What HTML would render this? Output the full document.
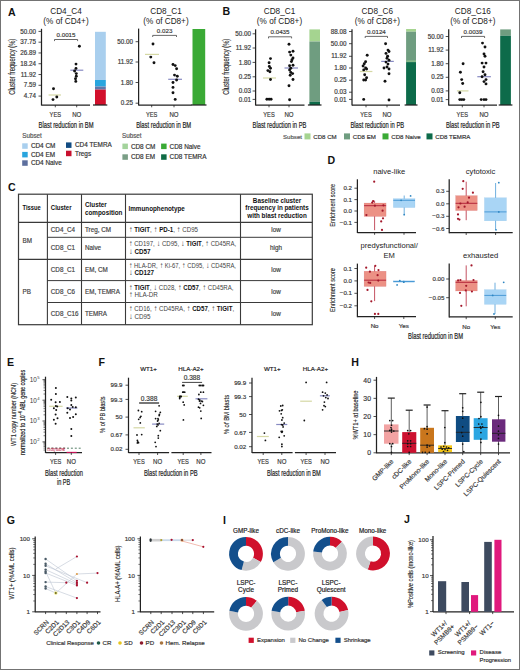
<!DOCTYPE html>
<html><head><meta charset="utf-8"><style>
html,body{margin:0;padding:0;background:#fff;}
#w{position:relative;width:520px;height:670px;overflow:hidden;background:#fff;}
svg{position:absolute;left:0;top:0;font-family:"Liberation Sans",sans-serif;}
#bd{position:absolute;left:0;top:0;width:518px;height:668px;border:1px solid #737373;}
</style></head><body><div id="w">
<svg width="520" height="670" viewBox="0 0 520 670">
<text x="7.9" y="15.6" font-size="10.6" fill="#111" font-weight="bold">A</text>
<text x="66" y="13.6" font-size="8.2" fill="#222" text-anchor="middle">CD4_C4</text>
<text x="66" y="23.6" font-size="8.2" fill="#222" text-anchor="middle">(% of CD4+)</text>
<line x1="41.5" y1="28.8" x2="41.5" y2="105.5" stroke="#222" stroke-width="1.25"/>
<line x1="38.5" y1="31.4" x2="41.5" y2="31.4" stroke="#222" stroke-width="0.8"/>
<text x="36" y="33.5672" font-size="6.3" fill="#3a3a3a" text-anchor="end" stroke="#3a3a3a" stroke-width="0.18">50.00</text>
<line x1="38.5" y1="42.18" x2="41.5" y2="42.18" stroke="#222" stroke-width="0.8"/>
<text x="36" y="44.3472" font-size="6.3" fill="#3a3a3a" text-anchor="end" stroke="#3a3a3a" stroke-width="0.18">37.75</text>
<line x1="38.5" y1="52.959999999999994" x2="41.5" y2="52.959999999999994" stroke="#222" stroke-width="0.8"/>
<text x="36" y="55.127199999999995" font-size="6.3" fill="#3a3a3a" text-anchor="end" stroke="#3a3a3a" stroke-width="0.18">26.89</text>
<line x1="38.5" y1="63.739999999999995" x2="41.5" y2="63.739999999999995" stroke="#222" stroke-width="0.8"/>
<text x="36" y="65.90719999999999" font-size="6.3" fill="#3a3a3a" text-anchor="end" stroke="#3a3a3a" stroke-width="0.18">18.24</text>
<line x1="38.5" y1="74.52" x2="41.5" y2="74.52" stroke="#222" stroke-width="0.8"/>
<text x="36" y="76.68719999999999" font-size="6.3" fill="#3a3a3a" text-anchor="end" stroke="#3a3a3a" stroke-width="0.18">11.92</text>
<line x1="38.5" y1="85.3" x2="41.5" y2="85.3" stroke="#222" stroke-width="0.8"/>
<text x="36" y="87.46719999999999" font-size="6.3" fill="#3a3a3a" text-anchor="end" stroke="#3a3a3a" stroke-width="0.18">7.59</text>
<line x1="38.5" y1="96.07999999999998" x2="41.5" y2="96.07999999999998" stroke="#222" stroke-width="0.8"/>
<text x="36" y="98.24719999999998" font-size="6.3" fill="#3a3a3a" text-anchor="end" stroke="#3a3a3a" stroke-width="0.18">4.74</text>
<line x1="41.5" y1="105" x2="90" y2="105" stroke="#222" stroke-width="1.25"/>
<line x1="55.3" y1="105" x2="55.3" y2="107.3" stroke="#222" stroke-width="0.8"/>
<line x1="76.7" y1="105" x2="76.7" y2="107.3" stroke="#222" stroke-width="0.8"/>
<text x="55.3" y="117.0" font-size="6.6" fill="#3a3a3a" textLength="11.4" lengthAdjust="spacingAndGlyphs" text-anchor="middle" stroke="#3a3a3a" stroke-width="0.18">YES</text>
<text x="76.7" y="117.0" font-size="6.6" fill="#3a3a3a" textLength="9.1" lengthAdjust="spacingAndGlyphs" text-anchor="middle" stroke="#3a3a3a" stroke-width="0.18">NO</text>
<text x="66.1" y="127.6" font-size="8.6" fill="#222" textLength="55" lengthAdjust="spacingAndGlyphs" text-anchor="middle" stroke="#222" stroke-width="0.2">Blast reduction in BM</text>
<text transform="translate(15.3,66.7) rotate(-90)" font-size="8.5" fill="#222" textLength="56" lengthAdjust="spacingAndGlyphs" text-anchor="middle" stroke="#222" stroke-width="0.12">Cluster frequency (%)</text>
<path d="M54.5,41.1 V39.5 H77.6 V41.1" fill="none" stroke="#444" stroke-width="0.8"/>
<text x="66.05" y="37.1328" font-size="6.2" fill="#3a3a3a" text-anchor="middle" stroke="#3a3a3a" stroke-width="0.18">0.0015</text>
<line x1="48.6" y1="95" x2="61" y2="95" stroke="#d5d8a4" stroke-width="1.2"/>
<line x1="70.3" y1="70.2" x2="83.3" y2="70.2" stroke="#878ac2" stroke-width="1.2"/>
<circle cx="53.5" cy="88.7" r="1.45" fill="#111"/>
<circle cx="53" cy="99.6" r="1.45" fill="#111"/>
<circle cx="56.8" cy="97" r="1.45" fill="#111"/>
<circle cx="79.4" cy="46.3" r="1.45" fill="#111"/>
<circle cx="76" cy="64.1" r="1.45" fill="#111"/>
<circle cx="76" cy="68.4" r="1.45" fill="#111"/>
<circle cx="74.6" cy="71" r="1.45" fill="#111"/>
<circle cx="76.3" cy="73.6" r="1.45" fill="#111"/>
<circle cx="76.3" cy="76.2" r="1.45" fill="#111"/>
<circle cx="75.5" cy="78.8" r="1.45" fill="#111"/>
<circle cx="75.8" cy="81.4" r="1.45" fill="#111"/>
<rect x="95" y="31.8" width="10.8" height="48.2" fill="#a9cfee"/>
<rect x="95" y="80" width="10.8" height="6.5" fill="#29a5de"/>
<rect x="95" y="86.5" width="10.8" height="3.1" fill="#5d78ab"/>
<rect x="95" y="89.6" width="10.8" height="15.400000000000006" fill="#d2102c"/>
<line x1="93" y1="105" x2="107.3" y2="105" stroke="#222" stroke-width="1.25"/>
<text x="166" y="13.6" font-size="8.2" fill="#222" text-anchor="middle">CD8_C1</text>
<text x="166" y="23.6" font-size="8.2" fill="#222" text-anchor="middle">(% of CD8+)</text>
<line x1="138.6" y1="28.6" x2="138.6" y2="105.5" stroke="#222" stroke-width="1.25"/>
<line x1="135.6" y1="41.7" x2="138.6" y2="41.7" stroke="#222" stroke-width="0.8"/>
<text x="133" y="43.867200000000004" font-size="6.3" fill="#3a3a3a" text-anchor="end" stroke="#3a3a3a" stroke-width="0.18">50.00</text>
<line x1="135.6" y1="62" x2="138.6" y2="62" stroke="#222" stroke-width="0.8"/>
<text x="133" y="64.1672" font-size="6.3" fill="#3a3a3a" text-anchor="end" stroke="#3a3a3a" stroke-width="0.18">11.92</text>
<line x1="135.6" y1="82.5" x2="138.6" y2="82.5" stroke="#222" stroke-width="0.8"/>
<text x="133" y="84.6672" font-size="6.3" fill="#3a3a3a" text-anchor="end" stroke="#3a3a3a" stroke-width="0.18">1.80</text>
<line x1="135.6" y1="103.2" x2="138.6" y2="103.2" stroke="#222" stroke-width="0.8"/>
<text x="133" y="105.3672" font-size="6.3" fill="#3a3a3a" text-anchor="end" stroke="#3a3a3a" stroke-width="0.18">0.25</text>
<line x1="138.6" y1="105" x2="191.4" y2="105" stroke="#222" stroke-width="1.25"/>
<line x1="151.7" y1="105" x2="151.7" y2="107.3" stroke="#222" stroke-width="0.8"/>
<line x1="174" y1="105" x2="174" y2="107.3" stroke="#222" stroke-width="0.8"/>
<text x="151.7" y="117.0" font-size="6.6" fill="#3a3a3a" textLength="11.4" lengthAdjust="spacingAndGlyphs" text-anchor="middle" stroke="#3a3a3a" stroke-width="0.18">YES</text>
<text x="174" y="117.0" font-size="6.6" fill="#3a3a3a" textLength="9.1" lengthAdjust="spacingAndGlyphs" text-anchor="middle" stroke="#3a3a3a" stroke-width="0.18">NO</text>
<text x="163.7" y="127.6" font-size="8.6" fill="#222" textLength="55" lengthAdjust="spacingAndGlyphs" text-anchor="middle" stroke="#222" stroke-width="0.2">Blast reduction in BM</text>
<path d="M152.7,37.0 V35.4 H176.5 V37.0" fill="none" stroke="#444" stroke-width="0.8"/>
<text x="164.6" y="33.1328" font-size="6.2" fill="#3a3a3a" text-anchor="middle" stroke="#3a3a3a" stroke-width="0.18">0.023</text>
<line x1="145" y1="54.4" x2="159" y2="54.4" stroke="#d5d8a4" stroke-width="1.2"/>
<line x1="168.2" y1="79.3" x2="182" y2="79.3" stroke="#878ac2" stroke-width="1.2"/>
<circle cx="153" cy="44" r="1.45" fill="#111"/>
<circle cx="150.8" cy="57.1" r="1.45" fill="#111"/>
<circle cx="154" cy="62.8" r="1.45" fill="#111"/>
<circle cx="173" cy="64.5" r="1.45" fill="#111"/>
<circle cx="175.2" cy="65.6" r="1.45" fill="#111"/>
<circle cx="176.6" cy="68.8" r="1.45" fill="#111"/>
<circle cx="174.5" cy="75.1" r="1.45" fill="#111"/>
<circle cx="177.3" cy="76.2" r="1.45" fill="#111"/>
<circle cx="176.6" cy="80" r="1.45" fill="#111"/>
<circle cx="173" cy="82.5" r="1.45" fill="#111"/>
<circle cx="173" cy="87.4" r="1.45" fill="#111"/>
<circle cx="173" cy="92.7" r="1.45" fill="#111"/>
<circle cx="175.2" cy="99.4" r="1.45" fill="#111"/>
<rect x="192.5" y="29" width="12.7" height="76" fill="#3aaa35"/>
<line x1="191" y1="105" x2="206.5" y2="105" stroke="#222" stroke-width="1.25"/>
<text x="22.2" y="138.2" font-size="6.3" fill="#555" stroke="#555" stroke-width="0.18">Subset</text>
<rect x="22.2" y="143.3" width="5.5" height="5.5" fill="#a9cfee"/>
<text x="30.9" y="148.25" font-size="6.4" fill="#333" stroke="#333" stroke-width="0.18">CD4 CM</text>
<rect x="22.2" y="151.9" width="5.5" height="5.5" fill="#29a5de"/>
<text x="30.9" y="156.85" font-size="6.4" fill="#333" stroke="#333" stroke-width="0.18">CD4 EM</text>
<rect x="22.2" y="160.3" width="5.5" height="5.5" fill="#5d6f9e"/>
<text x="30.9" y="165.25" font-size="6.4" fill="#333" stroke="#333" stroke-width="0.18">CD4 Naive</text>
<rect x="66" y="142.4" width="5.5" height="5.5" fill="#124c82"/>
<text x="75" y="147.35" font-size="6.4" fill="#333" stroke="#333" stroke-width="0.18">CD4 TEMRA</text>
<rect x="66" y="150.7" width="5.5" height="5.5" fill="#c8102e"/>
<text x="75" y="155.64999999999998" font-size="6.4" fill="#333" stroke="#333" stroke-width="0.18">Tregs</text>
<text x="122" y="138.2" font-size="6.3" fill="#555" stroke="#555" stroke-width="0.18">Subset</text>
<rect x="122.4" y="143.6" width="5.5" height="5.5" fill="#a3d39c"/>
<text x="130.9" y="148.54999999999998" font-size="6.4" fill="#333" stroke="#333" stroke-width="0.18">CD8 CM</text>
<rect x="122.4" y="154.3" width="5.5" height="5.5" fill="#7a9e86"/>
<text x="130.9" y="159.25" font-size="6.4" fill="#333" stroke="#333" stroke-width="0.18">CD8 EM</text>
<rect x="161.1" y="143.6" width="5.5" height="5.5" fill="#3aaa35"/>
<text x="169.6" y="148.54999999999998" font-size="6.4" fill="#333" stroke="#333" stroke-width="0.18">CD8 Naive</text>
<rect x="161.1" y="154.3" width="5.5" height="5.5" fill="#0f6b45"/>
<text x="169.6" y="159.25" font-size="6.4" fill="#333" stroke="#333" stroke-width="0.18">CD8 TEMRA</text>
<text x="222.4" y="15.4" font-size="10.6" fill="#111" font-weight="bold">B</text>
<text x="279.5" y="13.6" font-size="8.2" fill="#222" text-anchor="middle">CD8_C1</text>
<text x="279.5" y="23.6" font-size="8.2" fill="#222" text-anchor="middle">(% of CD8+)</text>
<line x1="255.6" y1="29.3" x2="255.6" y2="105.5" stroke="#222" stroke-width="1.25"/>
<line x1="252.6" y1="33.8" x2="255.6" y2="33.8" stroke="#222" stroke-width="0.8"/>
<text x="251" y="35.9672" font-size="6.3" fill="#3a3a3a" text-anchor="end" stroke="#3a3a3a" stroke-width="0.18">50.00</text>
<line x1="252.6" y1="48" x2="255.6" y2="48" stroke="#222" stroke-width="0.8"/>
<text x="251" y="50.1672" font-size="6.3" fill="#3a3a3a" text-anchor="end" stroke="#3a3a3a" stroke-width="0.18">11.92</text>
<line x1="252.6" y1="62.4" x2="255.6" y2="62.4" stroke="#222" stroke-width="0.8"/>
<text x="251" y="64.5672" font-size="6.3" fill="#3a3a3a" text-anchor="end" stroke="#3a3a3a" stroke-width="0.18">1.80</text>
<line x1="252.6" y1="76.8" x2="255.6" y2="76.8" stroke="#222" stroke-width="0.8"/>
<text x="251" y="78.96719999999999" font-size="6.3" fill="#3a3a3a" text-anchor="end" stroke="#3a3a3a" stroke-width="0.18">0.25</text>
<line x1="252.6" y1="91" x2="255.6" y2="91" stroke="#222" stroke-width="0.8"/>
<text x="251" y="93.1672" font-size="6.3" fill="#3a3a3a" text-anchor="end" stroke="#3a3a3a" stroke-width="0.18">0.03</text>
<line x1="252.6" y1="99.4" x2="255.6" y2="99.4" stroke="#222" stroke-width="0.8"/>
<text x="251" y="101.5672" font-size="6.3" fill="#3a3a3a" text-anchor="end" stroke="#3a3a3a" stroke-width="0.18">0.01</text>
<line x1="255.6" y1="105" x2="304.5" y2="105" stroke="#222" stroke-width="1.25"/>
<line x1="269" y1="105" x2="269" y2="107.3" stroke="#222" stroke-width="0.8"/>
<line x1="289" y1="105" x2="289" y2="107.3" stroke="#222" stroke-width="0.8"/>
<text x="269" y="117.0" font-size="6.6" fill="#3a3a3a" textLength="11.4" lengthAdjust="spacingAndGlyphs" text-anchor="middle" stroke="#3a3a3a" stroke-width="0.18">YES</text>
<text x="289" y="117.0" font-size="6.6" fill="#3a3a3a" textLength="9.1" lengthAdjust="spacingAndGlyphs" text-anchor="middle" stroke="#3a3a3a" stroke-width="0.18">NO</text>
<text x="279.5" y="127.6" font-size="8.6" fill="#222" textLength="53.8" lengthAdjust="spacingAndGlyphs" text-anchor="middle" stroke="#222" stroke-width="0.2">Blast reduction in PB</text>
<path d="M268.5,38.4 V36.8 H291.6 V38.4" fill="none" stroke="#444" stroke-width="0.8"/>
<text x="280.05" y="34.332800000000006" font-size="6.2" fill="#3a3a3a" text-anchor="middle" stroke="#3a3a3a" stroke-width="0.18">0.0435</text>
<line x1="263" y1="78" x2="276" y2="78" stroke="#d5d8a4" stroke-width="1.2"/>
<line x1="284.5" y1="68" x2="298" y2="68" stroke="#878ac2" stroke-width="1.2"/>
<circle cx="270.5" cy="58.6" r="1.45" fill="#111"/>
<circle cx="269.1" cy="62.8" r="1.45" fill="#111"/>
<circle cx="269.3" cy="66.4" r="1.45" fill="#111"/>
<circle cx="270.5" cy="68.2" r="1.45" fill="#111"/>
<circle cx="267.9" cy="70.6" r="1.45" fill="#111"/>
<circle cx="269.9" cy="71.8" r="1.45" fill="#111"/>
<circle cx="270.5" cy="79.5" r="1.45" fill="#111"/>
<circle cx="266.9" cy="99.2" r="1.45" fill="#111"/>
<circle cx="269.1" cy="99.2" r="1.45" fill="#111"/>
<circle cx="271.1" cy="99.2" r="1.45" fill="#111"/>
<circle cx="289" cy="44.3" r="1.45" fill="#111"/>
<circle cx="289.6" cy="52.1" r="1.45" fill="#111"/>
<circle cx="293" cy="51.2" r="1.45" fill="#111"/>
<circle cx="290.8" cy="55.1" r="1.45" fill="#111"/>
<circle cx="293" cy="58" r="1.45" fill="#111"/>
<circle cx="292" cy="59.8" r="1.45" fill="#111"/>
<circle cx="291.4" cy="61.6" r="1.45" fill="#111"/>
<circle cx="293" cy="65.2" r="1.45" fill="#111"/>
<circle cx="289.6" cy="65.8" r="1.45" fill="#111"/>
<circle cx="290.8" cy="68.2" r="1.45" fill="#111"/>
<circle cx="289.6" cy="70" r="1.45" fill="#111"/>
<circle cx="290.8" cy="72.4" r="1.45" fill="#111"/>
<circle cx="292.6" cy="73.6" r="1.45" fill="#111"/>
<circle cx="290.2" cy="75.3" r="1.45" fill="#111"/>
<circle cx="293" cy="79.5" r="1.45" fill="#111"/>
<circle cx="289" cy="85.8" r="1.45" fill="#111"/>
<circle cx="289.6" cy="99.8" r="1.45" fill="#111"/>
<rect x="309.4" y="29.4" width="10.600000000000023" height="12.100000000000001" fill="#a5d490"/>
<rect x="309.4" y="41.5" width="10.600000000000023" height="60.3" fill="#6f9d80"/>
<rect x="309.4" y="101.8" width="10.600000000000023" height="3.200000000000003" fill="#0d6b4a"/>
<line x1="307.9" y1="105" x2="321.5" y2="105" stroke="#222" stroke-width="1.25"/>
<text transform="translate(229.3,66.7) rotate(-90)" font-size="8.5" fill="#222" textLength="56" lengthAdjust="spacingAndGlyphs" text-anchor="middle" stroke="#222" stroke-width="0.12">Cluster frequency (%)</text>
<text x="377.3" y="13.6" font-size="8.2" fill="#222" text-anchor="middle">CD8_C6</text>
<text x="377.3" y="23.6" font-size="8.2" fill="#222" text-anchor="middle">(% of CD8+)</text>
<line x1="352" y1="29.3" x2="352" y2="105.5" stroke="#222" stroke-width="1.25"/>
<line x1="349" y1="31.5" x2="352" y2="31.5" stroke="#222" stroke-width="0.8"/>
<text x="346.5" y="33.6672" font-size="6.3" fill="#3a3a3a" text-anchor="end" stroke="#3a3a3a" stroke-width="0.18">88.08</text>
<line x1="349" y1="43.7" x2="352" y2="43.7" stroke="#222" stroke-width="0.8"/>
<text x="346.5" y="45.867200000000004" font-size="6.3" fill="#3a3a3a" text-anchor="end" stroke="#3a3a3a" stroke-width="0.18">50.00</text>
<line x1="349" y1="56.3" x2="352" y2="56.3" stroke="#222" stroke-width="0.8"/>
<text x="346.5" y="58.4672" font-size="6.3" fill="#3a3a3a" text-anchor="end" stroke="#3a3a3a" stroke-width="0.18">11.92</text>
<line x1="349" y1="68" x2="352" y2="68" stroke="#222" stroke-width="0.8"/>
<text x="346.5" y="70.1672" font-size="6.3" fill="#3a3a3a" text-anchor="end" stroke="#3a3a3a" stroke-width="0.18">1.80</text>
<line x1="349" y1="80.2" x2="352" y2="80.2" stroke="#222" stroke-width="0.8"/>
<text x="346.5" y="82.3672" font-size="6.3" fill="#3a3a3a" text-anchor="end" stroke="#3a3a3a" stroke-width="0.18">0.25</text>
<line x1="349" y1="92.2" x2="352" y2="92.2" stroke="#222" stroke-width="0.8"/>
<text x="346.5" y="94.3672" font-size="6.3" fill="#3a3a3a" text-anchor="end" stroke="#3a3a3a" stroke-width="0.18">0.03</text>
<line x1="349" y1="99.4" x2="352" y2="99.4" stroke="#222" stroke-width="0.8"/>
<text x="346.5" y="101.5672" font-size="6.3" fill="#3a3a3a" text-anchor="end" stroke="#3a3a3a" stroke-width="0.18">0.01</text>
<line x1="352" y1="105" x2="400" y2="105" stroke="#222" stroke-width="1.25"/>
<line x1="366" y1="105" x2="366" y2="107.3" stroke="#222" stroke-width="0.8"/>
<line x1="387" y1="105" x2="387" y2="107.3" stroke="#222" stroke-width="0.8"/>
<text x="366" y="117.0" font-size="6.6" fill="#3a3a3a" textLength="11.4" lengthAdjust="spacingAndGlyphs" text-anchor="middle" stroke="#3a3a3a" stroke-width="0.18">YES</text>
<text x="387" y="117.0" font-size="6.6" fill="#3a3a3a" textLength="9.1" lengthAdjust="spacingAndGlyphs" text-anchor="middle" stroke="#3a3a3a" stroke-width="0.18">NO</text>
<text x="377.3" y="127.6" font-size="8.6" fill="#222" textLength="53.8" lengthAdjust="spacingAndGlyphs" text-anchor="middle" stroke="#222" stroke-width="0.2">Blast reduction in PB</text>
<path d="M365.2,38.0 V36.4 H387.5 V38.0" fill="none" stroke="#444" stroke-width="0.8"/>
<text x="376.35" y="33.6328" font-size="6.2" fill="#3a3a3a" text-anchor="middle" stroke="#3a3a3a" stroke-width="0.18">0.0124</text>
<line x1="359.8" y1="71.5" x2="372.4" y2="71.5" stroke="#d5d8a4" stroke-width="1.2"/>
<line x1="381.2" y1="61.4" x2="393.8" y2="61.4" stroke="#878ac2" stroke-width="1.2"/>
<circle cx="367.2" cy="55.3" r="1.45" fill="#111"/>
<circle cx="365.6" cy="61.7" r="1.45" fill="#111"/>
<circle cx="364.3" cy="63.7" r="1.45" fill="#111"/>
<circle cx="363.1" cy="66" r="1.45" fill="#111"/>
<circle cx="365.6" cy="68" r="1.45" fill="#111"/>
<circle cx="366.6" cy="69" r="1.45" fill="#111"/>
<circle cx="363.7" cy="69.9" r="1.45" fill="#111"/>
<circle cx="364.7" cy="74.8" r="1.45" fill="#111"/>
<circle cx="366.6" cy="77.7" r="1.45" fill="#111"/>
<circle cx="363.7" cy="80" r="1.45" fill="#111"/>
<circle cx="365.6" cy="80" r="1.45" fill="#111"/>
<circle cx="363.7" cy="99.4" r="1.45" fill="#111"/>
<circle cx="385.6" cy="43.7" r="1.45" fill="#111"/>
<circle cx="388" cy="50.1" r="1.45" fill="#111"/>
<circle cx="389" cy="51.5" r="1.45" fill="#111"/>
<circle cx="386" cy="53.4" r="1.45" fill="#111"/>
<circle cx="387.6" cy="56.3" r="1.45" fill="#111"/>
<circle cx="387" cy="58.3" r="1.45" fill="#111"/>
<circle cx="389" cy="60.2" r="1.45" fill="#111"/>
<circle cx="386" cy="62.1" r="1.45" fill="#111"/>
<circle cx="388" cy="64.1" r="1.45" fill="#111"/>
<circle cx="387" cy="67" r="1.45" fill="#111"/>
<circle cx="384" cy="68" r="1.45" fill="#111"/>
<circle cx="389" cy="69" r="1.45" fill="#111"/>
<circle cx="389" cy="73.8" r="1.45" fill="#111"/>
<circle cx="385" cy="81.2" r="1.45" fill="#111"/>
<circle cx="389" cy="100" r="1.45" fill="#111"/>
<rect x="406.1" y="29.0" width="9.899999999999977" height="2.6999999999999993" fill="#a5d490"/>
<rect x="406.1" y="31.7" width="9.899999999999977" height="30.400000000000002" fill="#6f9d80"/>
<rect x="406.1" y="60.3" width="9.899999999999977" height="1.8000000000000043" fill="#86b98a"/>
<rect x="406.1" y="62.1" width="9.899999999999977" height="42.9" fill="#0d6b4a"/>
<line x1="404.6" y1="105" x2="417.5" y2="105" stroke="#222" stroke-width="1.25"/>
<text x="472.8" y="13.6" font-size="8.2" fill="#222" text-anchor="middle">CD8_C16</text>
<text x="472.8" y="23.6" font-size="8.2" fill="#222" text-anchor="middle">(% of CD8+)</text>
<line x1="448.7" y1="29.3" x2="448.7" y2="105.5" stroke="#222" stroke-width="1.25"/>
<line x1="445.7" y1="36.5" x2="448.7" y2="36.5" stroke="#222" stroke-width="0.8"/>
<text x="443.5" y="38.6672" font-size="6.3" fill="#3a3a3a" text-anchor="end" stroke="#3a3a3a" stroke-width="0.18">50.00</text>
<line x1="445.7" y1="50.1" x2="448.7" y2="50.1" stroke="#222" stroke-width="0.8"/>
<text x="443.5" y="52.2672" font-size="6.3" fill="#3a3a3a" text-anchor="end" stroke="#3a3a3a" stroke-width="0.18">11.92</text>
<line x1="445.7" y1="63.7" x2="448.7" y2="63.7" stroke="#222" stroke-width="0.8"/>
<text x="443.5" y="65.8672" font-size="6.3" fill="#3a3a3a" text-anchor="end" stroke="#3a3a3a" stroke-width="0.18">1.80</text>
<line x1="445.7" y1="77.3" x2="448.7" y2="77.3" stroke="#222" stroke-width="0.8"/>
<text x="443.5" y="79.46719999999999" font-size="6.3" fill="#3a3a3a" text-anchor="end" stroke="#3a3a3a" stroke-width="0.18">0.25</text>
<line x1="445.7" y1="90.9" x2="448.7" y2="90.9" stroke="#222" stroke-width="0.8"/>
<text x="443.5" y="93.0672" font-size="6.3" fill="#3a3a3a" text-anchor="end" stroke="#3a3a3a" stroke-width="0.18">0.03</text>
<line x1="445.7" y1="99.6" x2="448.7" y2="99.6" stroke="#222" stroke-width="0.8"/>
<text x="443.5" y="101.76719999999999" font-size="6.3" fill="#3a3a3a" text-anchor="end" stroke="#3a3a3a" stroke-width="0.18">0.01</text>
<line x1="448.7" y1="105" x2="497" y2="105" stroke="#222" stroke-width="1.25"/>
<line x1="462.3" y1="105" x2="462.3" y2="107.3" stroke="#222" stroke-width="0.8"/>
<line x1="484" y1="105" x2="484" y2="107.3" stroke="#222" stroke-width="0.8"/>
<text x="462.3" y="117.0" font-size="6.6" fill="#3a3a3a" textLength="11.4" lengthAdjust="spacingAndGlyphs" text-anchor="middle" stroke="#3a3a3a" stroke-width="0.18">YES</text>
<text x="484" y="117.0" font-size="6.6" fill="#3a3a3a" textLength="9.1" lengthAdjust="spacingAndGlyphs" text-anchor="middle" stroke="#3a3a3a" stroke-width="0.18">NO</text>
<text x="472.8" y="127.6" font-size="8.6" fill="#222" textLength="53.8" lengthAdjust="spacingAndGlyphs" text-anchor="middle" stroke="#222" stroke-width="0.2">Blast reduction in PB</text>
<path d="M461.5,38.0 V36.4 H484.6 V38.0" fill="none" stroke="#444" stroke-width="0.8"/>
<text x="473.05" y="33.5328" font-size="6.2" fill="#3a3a3a" text-anchor="middle" stroke="#3a3a3a" stroke-width="0.18">0.0039</text>
<line x1="456.9" y1="90.9" x2="468.5" y2="90.9" stroke="#d5d8a4" stroke-width="1.2"/>
<line x1="477.3" y1="76.7" x2="490.9" y2="76.7" stroke="#878ac2" stroke-width="1.2"/>
<circle cx="463.1" cy="63.7" r="1.45" fill="#111"/>
<circle cx="460.4" cy="72.2" r="1.45" fill="#111"/>
<circle cx="461.7" cy="79.6" r="1.45" fill="#111"/>
<circle cx="462.7" cy="83.5" r="1.45" fill="#111"/>
<circle cx="459.8" cy="92.8" r="1.45" fill="#111"/>
<circle cx="459.8" cy="99.6" r="1.45" fill="#111"/>
<circle cx="461.8" cy="99.6" r="1.45" fill="#111"/>
<circle cx="463.8" cy="99.6" r="1.45" fill="#111"/>
<circle cx="482.5" cy="43.1" r="1.45" fill="#111"/>
<circle cx="485" cy="47" r="1.45" fill="#111"/>
<circle cx="484" cy="54" r="1.45" fill="#111"/>
<circle cx="485" cy="56.3" r="1.45" fill="#111"/>
<circle cx="482.1" cy="63.1" r="1.45" fill="#111"/>
<circle cx="486" cy="63.1" r="1.45" fill="#111"/>
<circle cx="484" cy="67" r="1.45" fill="#111"/>
<circle cx="483.1" cy="71.8" r="1.45" fill="#111"/>
<circle cx="485" cy="74.8" r="1.45" fill="#111"/>
<circle cx="482.1" cy="76.7" r="1.45" fill="#111"/>
<circle cx="486" cy="79.6" r="1.45" fill="#111"/>
<circle cx="484" cy="81.6" r="1.45" fill="#111"/>
<circle cx="486" cy="83.9" r="1.45" fill="#111"/>
<circle cx="481.2" cy="99.6" r="1.45" fill="#111"/>
<circle cx="484" cy="99.6" r="1.45" fill="#111"/>
<circle cx="486" cy="99.6" r="1.45" fill="#111"/>
<rect x="500.2" y="29.4" width="10.699999999999989" height="6.399999999999999" fill="#6f9d80"/>
<rect x="500.2" y="35.8" width="10.699999999999989" height="69.2" fill="#0d6b4a"/>
<line x1="498.7" y1="105" x2="512.4" y2="105" stroke="#222" stroke-width="1.25"/>
<text x="283" y="138.5" font-size="6.1" fill="#555" stroke="#555" stroke-width="0.18">Subset</text>
<rect x="304.5" y="133.4" width="6" height="6" fill="#a5d490"/>
<text x="313.3" y="138.5" font-size="6.1" fill="#333" stroke="#333" stroke-width="0.18">CD8 CM</text>
<rect x="344.0" y="133.4" width="6" height="6" fill="#6f9d80"/>
<text x="352.8" y="138.5" font-size="6.1" fill="#333" stroke="#333" stroke-width="0.18">CD8 EM</text>
<rect x="382.5" y="133.4" width="6" height="6" fill="#3aaa35"/>
<text x="391.3" y="138.5" font-size="6.1" fill="#333" stroke="#333" stroke-width="0.18">CD8 Naive</text>
<rect x="426.5" y="133.4" width="6" height="6" fill="#0d6b4a"/>
<text x="435.3" y="138.5" font-size="6.1" fill="#333" stroke="#333" stroke-width="0.18">CD8 TEMRA</text>
<text x="8.1" y="190.9" font-size="10.6" fill="#111" font-weight="bold">C</text>
<rect x="18.5" y="194.2" width="293.8" height="130.5" fill="none" stroke="#3a3a3a" stroke-width="1.2"/>
<line x1="47.4" y1="194.2" x2="47.4" y2="324.7" stroke="#3a3a3a" stroke-width="1.1"/>
<line x1="81.5" y1="194.2" x2="81.5" y2="324.7" stroke="#3a3a3a" stroke-width="1.1"/>
<line x1="125.5" y1="194.2" x2="125.5" y2="324.7" stroke="#3a3a3a" stroke-width="1.1"/>
<line x1="240.5" y1="194.2" x2="240.5" y2="324.7" stroke="#3a3a3a" stroke-width="1.1"/>
<line x1="18.5" y1="222.4" x2="312.3" y2="222.4" stroke="#3a3a3a" stroke-width="1.2"/>
<line x1="18.5" y1="259.3" x2="312.3" y2="259.3" stroke="#3a3a3a" stroke-width="1.2"/>
<line x1="47.4" y1="237.3" x2="312.3" y2="237.3" stroke="#3a3a3a" stroke-width="1.0"/>
<line x1="47.4" y1="280.6" x2="312.3" y2="280.6" stroke="#3a3a3a" stroke-width="1.0"/>
<line x1="47.4" y1="302.5" x2="312.3" y2="302.5" stroke="#3a3a3a" stroke-width="1.0"/>
<text x="22.6" y="210.2" font-size="6.3" fill="#111" textLength="18.2" lengthAdjust="spacingAndGlyphs" font-weight="bold">Tissue</text>
<text x="50.8" y="210.2" font-size="6.3" fill="#111" textLength="20.7" lengthAdjust="spacingAndGlyphs" font-weight="bold">Cluster</text>
<text x="85" y="206.8" font-size="6.3" fill="#111" font-weight="bold">Cluster</text>
<text x="85" y="214.6" font-size="6.3" fill="#111" font-weight="bold">composition</text>
<text x="128.5" y="211" font-size="6.3" fill="#111" font-weight="bold">Immunophenotype</text>
<text x="277" y="202.6" font-size="6.3" fill="#111" font-weight="bold" text-anchor="middle">Baseline cluster</text>
<text x="277" y="210.2" font-size="6.3" fill="#111" font-weight="bold" text-anchor="middle">frequency in patients</text>
<text x="277" y="218" font-size="6.3" fill="#111" font-weight="bold" text-anchor="middle">with blast reduction</text>
<text x="22.6" y="243.4" font-size="6.3" fill="#444" stroke="#444" stroke-width="0.18">BM</text>
<text x="22.6" y="293.9" font-size="6.3" fill="#444" stroke="#444" stroke-width="0.18">PB</text>
<text x="50.8" y="232.2" font-size="6.3" fill="#444" stroke="#444" stroke-width="0.18">CD4_C4</text>
<text x="85" y="232.2" font-size="6.3" fill="#444" stroke="#444" stroke-width="0.18">Treg, CM</text>
<text x="276" y="232.2" font-size="6.3" fill="#444" text-anchor="middle" stroke="#444" stroke-width="0.18">low</text>
<text x="50.8" y="250.29999999999998" font-size="6.3" fill="#444" stroke="#444" stroke-width="0.18">CD8_C1</text>
<text x="85" y="250.29999999999998" font-size="6.3" fill="#444" stroke="#444" stroke-width="0.18">Naive</text>
<text x="276" y="250.29999999999998" font-size="6.3" fill="#444" text-anchor="middle" stroke="#444" stroke-width="0.18">high</text>
<text x="50.8" y="271.8" font-size="6.3" fill="#444" stroke="#444" stroke-width="0.18">CD8_C1</text>
<text x="85" y="271.8" font-size="6.3" fill="#444" stroke="#444" stroke-width="0.18">EM, CM</text>
<text x="276" y="271.8" font-size="6.3" fill="#444" text-anchor="middle" stroke="#444" stroke-width="0.18">low</text>
<text x="50.8" y="294.0" font-size="6.3" fill="#444" stroke="#444" stroke-width="0.18">CD8_C6</text>
<text x="85" y="294.0" font-size="6.3" fill="#444" stroke="#444" stroke-width="0.18">EM, TEMRA</text>
<text x="276" y="294.0" font-size="6.3" fill="#444" text-anchor="middle" stroke="#444" stroke-width="0.18">low</text>
<text x="50.8" y="315.8" font-size="6.3" fill="#444" stroke="#444" stroke-width="0.18">CD8_C16</text>
<text x="85" y="315.8" font-size="6.3" fill="#444" stroke="#444" stroke-width="0.18">TEMRA</text>
<text x="276" y="315.8" font-size="6.3" fill="#444" text-anchor="middle" stroke="#444" stroke-width="0.18">low</text>
<text x="128.7" y="231.7" font-size="6.3" fill="#444" textLength="69.3" lengthAdjust="spacingAndGlyphs"><tspan font-size="8" fill="#444">↑</tspan> <tspan font-weight="bold" fill="#111">TIGIT</tspan>, <tspan font-size="8" fill="#444">↑</tspan> <tspan font-weight="bold" fill="#111">PD-1</tspan>, <tspan font-size="8" fill="#444">↑</tspan> CD95</text>
<text x="128.7" y="246.3" font-size="6.3" fill="#444" textLength="107.5" lengthAdjust="spacingAndGlyphs"><tspan font-size="8" fill="#444">↑</tspan> CD197, <tspan font-size="8" fill="#444">↓</tspan> CD95, <tspan font-size="8" fill="#444">↓</tspan> <tspan font-weight="bold" fill="#111">TIGIT</tspan>, <tspan font-size="8" fill="#444">↑</tspan> CD45RA,</text>
<text x="128.7" y="254.1" font-size="6.3" fill="#444"><tspan font-size="8" fill="#444">↓</tspan> <tspan font-weight="bold" fill="#111">CD57</tspan></text>
<text x="128.7" y="268" font-size="6.3" fill="#444" textLength="107.3" lengthAdjust="spacingAndGlyphs"><tspan font-size="8" fill="#444">↑</tspan> HLA-DR, <tspan font-size="8" fill="#444">↑</tspan> Ki-67, <tspan font-size="8" fill="#444">↑</tspan> CD95, <tspan font-size="8" fill="#444">↓</tspan> CD45RA,</text>
<text x="128.7" y="275.0" font-size="6.3" fill="#444"><tspan font-size="8" fill="#444">↓</tspan> <tspan font-weight="bold" fill="#111">CD127</tspan></text>
<text x="128.7" y="290.2" font-size="6.3" fill="#444" textLength="104.8" lengthAdjust="spacingAndGlyphs"><tspan font-size="8" fill="#444">↑</tspan> <tspan font-weight="bold" fill="#111">TIGIT</tspan>, <tspan font-size="8" fill="#444">↓</tspan> CD28, <tspan font-size="8" fill="#444">↑</tspan> <tspan font-weight="bold" fill="#111">CD57</tspan>, <tspan font-size="8" fill="#444">↑</tspan> CD45RA,</text>
<text x="128.7" y="297.0" font-size="6.3" fill="#444"><tspan font-size="8" fill="#444">↑</tspan> HLA-DR</text>
<text x="128.7" y="311.4" font-size="6.3" fill="#444" textLength="105.5" lengthAdjust="spacingAndGlyphs"><tspan font-size="8" fill="#444">↑</tspan> CD16, <tspan font-size="8" fill="#444">↑</tspan> CD45RA, <tspan font-size="8" fill="#444">↑</tspan> <tspan font-weight="bold" fill="#111">CD57</tspan>, <tspan font-size="8" fill="#444">↑</tspan> <tspan font-weight="bold" fill="#111">TIGIT</tspan>,</text>
<text x="128.7" y="319.2" font-size="6.3" fill="#444"><tspan font-size="8" fill="#444">↓</tspan> CD95</text>
<text x="327.6" y="163.5" font-size="10.6" fill="#111" font-weight="bold">D</text>
<text x="389.2" y="174.1" font-size="7.6" fill="#222" text-anchor="middle">naive-like</text>
<line x1="357.4" y1="179.3" x2="357.4" y2="233.0" stroke="#222" stroke-width="1.25"/>
<line x1="354.4" y1="188.2" x2="357.4" y2="188.2" stroke="#222" stroke-width="0.8"/>
<text x="352" y="190.3328" font-size="6.2" fill="#3a3a3a" text-anchor="end" stroke="#3a3a3a" stroke-width="0.18">0.2</text>
<line x1="354.4" y1="199.6" x2="357.4" y2="199.6" stroke="#222" stroke-width="0.8"/>
<text x="352" y="201.7328" font-size="6.2" fill="#3a3a3a" text-anchor="end" stroke="#3a3a3a" stroke-width="0.18">0.1</text>
<line x1="354.4" y1="211" x2="357.4" y2="211" stroke="#222" stroke-width="0.8"/>
<text x="352" y="213.1328" font-size="6.2" fill="#3a3a3a" text-anchor="end" stroke="#3a3a3a" stroke-width="0.18">0.0</text>
<line x1="354.4" y1="222.4" x2="357.4" y2="222.4" stroke="#222" stroke-width="0.8"/>
<text x="352" y="224.5328" font-size="6.2" fill="#3a3a3a" text-anchor="end" stroke="#3a3a3a" stroke-width="0.18">−0.1</text>
<line x1="357.4" y1="232.5" x2="416" y2="232.5" stroke="#222" stroke-width="1.25"/>
<line x1="374.6" y1="232.5" x2="374.6" y2="234.8" stroke="#222" stroke-width="0.8"/>
<line x1="404" y1="232.5" x2="404" y2="234.8" stroke="#222" stroke-width="0.8"/>
<line x1="374.6" y1="200.6" x2="374.6" y2="230.2" stroke="#b5263a" stroke-width="0.8"/>
<rect x="364.1" y="203" width="22.0" height="13.5" fill="#ec9185" fill-opacity="1" stroke="#b5263a" stroke-width="0.4" stroke-opacity="0.25"/>
<line x1="364.1" y1="205.7" x2="386.1" y2="205.7" stroke="#b5263a" stroke-width="1"/>
<line x1="404.2" y1="195.5" x2="404.2" y2="214.7" stroke="#4a9ad6" stroke-width="0.8"/>
<rect x="393.3" y="198.6" width="21.69999999999999" height="9.0" fill="#a9d5f5" fill-opacity="1" stroke="#4a9ad6" stroke-width="0.4" stroke-opacity="0.25"/>
<line x1="393.3" y1="200.3" x2="415" y2="200.3" stroke="#4a9ad6" stroke-width="1"/>
<circle cx="374.2" cy="181.7" r="1.1" fill="#a3182b"/>
<circle cx="373.1" cy="201.2" r="1.1" fill="#a3182b"/>
<circle cx="372.2" cy="202.6" r="1.1" fill="#a3182b"/>
<circle cx="374.9" cy="205.7" r="1.1" fill="#a3182b"/>
<circle cx="383.4" cy="205.3" r="1.1" fill="#a3182b"/>
<circle cx="366.4" cy="215.1" r="1.1" fill="#a3182b"/>
<circle cx="382.6" cy="210.7" r="1.1" fill="#a3182b"/>
<circle cx="383" cy="218.3" r="1.1" fill="#a3182b"/>
<circle cx="381.2" cy="221.4" r="1.1" fill="#a3182b"/>
<circle cx="382" cy="229.9" r="1.1" fill="#a3182b"/>
<circle cx="410.6" cy="195.9" r="0.9" fill="#2e86c1"/>
<circle cx="401.1" cy="200.3" r="0.9" fill="#2e86c1"/>
<circle cx="404.2" cy="214.7" r="0.9" fill="#2e86c1"/>
<text transform="translate(335,205.3) rotate(-90)" font-size="7.2" fill="#222" textLength="43" lengthAdjust="spacingAndGlyphs" text-anchor="middle" stroke="#222" stroke-width="0.12">Enrichment score</text>
<text x="480.6" y="174.1" font-size="7.6" fill="#222" text-anchor="middle">cytotoxic</text>
<line x1="449.2" y1="179.3" x2="449.2" y2="233.2" stroke="#222" stroke-width="1.25"/>
<line x1="446.2" y1="191.3" x2="449.2" y2="191.3" stroke="#222" stroke-width="0.8"/>
<text x="444.5" y="193.43280000000001" font-size="6.2" fill="#3a3a3a" text-anchor="end" stroke="#3a3a3a" stroke-width="0.18">0.3</text>
<line x1="446.2" y1="203.8" x2="449.2" y2="203.8" stroke="#222" stroke-width="0.8"/>
<text x="444.5" y="205.93280000000001" font-size="6.2" fill="#3a3a3a" text-anchor="end" stroke="#3a3a3a" stroke-width="0.18">0.0</text>
<line x1="446.2" y1="216.3" x2="449.2" y2="216.3" stroke="#222" stroke-width="0.8"/>
<text x="444.5" y="218.43280000000001" font-size="6.2" fill="#3a3a3a" text-anchor="end" stroke="#3a3a3a" stroke-width="0.18">−0.3</text>
<line x1="446.2" y1="228.5" x2="449.2" y2="228.5" stroke="#222" stroke-width="0.8"/>
<text x="444.5" y="230.6328" font-size="6.2" fill="#3a3a3a" text-anchor="end" stroke="#3a3a3a" stroke-width="0.18">−0.6</text>
<line x1="449.2" y1="232.7" x2="512.7" y2="232.7" stroke="#222" stroke-width="1.25"/>
<line x1="466.2" y1="232.7" x2="466.2" y2="235.0" stroke="#222" stroke-width="0.8"/>
<line x1="495.6" y1="232.7" x2="495.6" y2="235.0" stroke="#222" stroke-width="0.8"/>
<line x1="466.2" y1="181.7" x2="466.2" y2="220.2" stroke="#b5263a" stroke-width="0.8"/>
<rect x="455.6" y="195.6" width="21.69999999999999" height="15.0" fill="#ec9185" fill-opacity="1" stroke="#b5263a" stroke-width="0.4" stroke-opacity="0.25"/>
<line x1="455.6" y1="203.3" x2="477.3" y2="203.3" stroke="#b5263a" stroke-width="1"/>
<line x1="495.6" y1="183" x2="495.6" y2="229.8" stroke="#4a9ad6" stroke-width="0.8"/>
<rect x="484.4" y="197.7" width="22.100000000000023" height="23.100000000000023" fill="#a9d5f5" fill-opacity="1" stroke="#4a9ad6" stroke-width="0.4" stroke-opacity="0.25"/>
<line x1="484.4" y1="211.9" x2="506.5" y2="211.9" stroke="#4a9ad6" stroke-width="1"/>
<circle cx="463.3" cy="181.2" r="1.1" fill="#a3182b"/>
<circle cx="462.7" cy="188.8" r="1.1" fill="#a3182b"/>
<circle cx="472.9" cy="192.7" r="1.1" fill="#a3182b"/>
<circle cx="469" cy="197.7" r="1.1" fill="#a3182b"/>
<circle cx="467.7" cy="202.3" r="1.1" fill="#a3182b"/>
<circle cx="460.4" cy="203.5" r="1.1" fill="#a3182b"/>
<circle cx="464.6" cy="206.7" r="1.1" fill="#a3182b"/>
<circle cx="458.5" cy="207.3" r="1.1" fill="#a3182b"/>
<circle cx="458" cy="214.4" r="1.1" fill="#a3182b"/>
<circle cx="458" cy="218.8" r="1.1" fill="#a3182b"/>
<circle cx="459.4" cy="219.6" r="1.1" fill="#a3182b"/>
<circle cx="498.8" cy="182.7" r="0.9" fill="#2e86c1"/>
<circle cx="498.8" cy="211.9" r="0.9" fill="#2e86c1"/>
<circle cx="496" cy="229.8" r="0.9" fill="#2e86c1"/>
<text x="389.2" y="248.2" font-size="7.6" fill="#222" text-anchor="middle">predysfunctional/</text>
<text x="389.2" y="258.0" font-size="7.6" fill="#222" text-anchor="middle">EM</text>
<line x1="357.4" y1="263.6" x2="357.4" y2="317.2" stroke="#222" stroke-width="1.25"/>
<line x1="354.4" y1="268.5" x2="357.4" y2="268.5" stroke="#222" stroke-width="0.8"/>
<text x="352" y="270.6328" font-size="6.2" fill="#3a3a3a" text-anchor="end" stroke="#3a3a3a" stroke-width="0.18">0.1</text>
<line x1="354.4" y1="280.9" x2="357.4" y2="280.9" stroke="#222" stroke-width="0.8"/>
<text x="352" y="283.03279999999995" font-size="6.2" fill="#3a3a3a" text-anchor="end" stroke="#3a3a3a" stroke-width="0.18">0.0</text>
<line x1="354.4" y1="293.3" x2="357.4" y2="293.3" stroke="#222" stroke-width="0.8"/>
<text x="352" y="295.4328" font-size="6.2" fill="#3a3a3a" text-anchor="end" stroke="#3a3a3a" stroke-width="0.18">−0.1</text>
<line x1="354.4" y1="305.8" x2="357.4" y2="305.8" stroke="#222" stroke-width="0.8"/>
<text x="352" y="307.9328" font-size="6.2" fill="#3a3a3a" text-anchor="end" stroke="#3a3a3a" stroke-width="0.18">−0.2</text>
<line x1="357.4" y1="316.7" x2="416" y2="316.7" stroke="#222" stroke-width="1.25"/>
<line x1="374.6" y1="316.7" x2="374.6" y2="319.0" stroke="#222" stroke-width="0.8"/>
<line x1="403.8" y1="316.7" x2="403.8" y2="319.0" stroke="#222" stroke-width="0.8"/>
<line x1="374.6" y1="266" x2="374.6" y2="301.1" stroke="#b5263a" stroke-width="0.8"/>
<rect x="364.1" y="271.2" width="22.0" height="15.300000000000011" fill="#ec9185" fill-opacity="1" stroke="#b5263a" stroke-width="0.4" stroke-opacity="0.25"/>
<line x1="364.1" y1="280.2" x2="386.1" y2="280.2" stroke="#b5263a" stroke-width="1"/>
<line x1="403.8" y1="280.5" x2="403.8" y2="282.5" stroke="#4a9ad6" stroke-width="0.8"/>
<rect x="393.3" y="280.7" width="21.30000000000001" height="1.6000000000000227" fill="#a9d5f5" fill-opacity="1" stroke="#4a9ad6" stroke-width="0.4" stroke-opacity="0.25"/>
<line x1="393.3" y1="281.5" x2="414.6" y2="281.5" stroke="#4a9ad6" stroke-width="1"/>
<circle cx="366.2" cy="267.7" r="1.1" fill="#a3182b"/>
<circle cx="369.9" cy="271.7" r="1.1" fill="#a3182b"/>
<circle cx="375.3" cy="265.8" r="1.1" fill="#a3182b"/>
<circle cx="378.5" cy="270.1" r="1.1" fill="#a3182b"/>
<circle cx="377.6" cy="275.2" r="1.1" fill="#a3182b"/>
<circle cx="378.3" cy="280.6" r="1.1" fill="#a3182b"/>
<circle cx="368.6" cy="282.5" r="1.1" fill="#a3182b"/>
<circle cx="370.2" cy="282.9" r="1.1" fill="#a3182b"/>
<circle cx="367.5" cy="289.9" r="1.1" fill="#a3182b"/>
<circle cx="371.3" cy="301.3" r="1.1" fill="#a3182b"/>
<circle cx="374.9" cy="313.9" r="1.1" fill="#a3182b"/>
<circle cx="378.3" cy="313.9" r="1.1" fill="#a3182b"/>
<circle cx="397.1" cy="284.9" r="0.9" fill="#2e86c1"/>
<circle cx="399.8" cy="280.6" r="0.9" fill="#2e86c1"/>
<circle cx="403.8" cy="282.2" r="0.9" fill="#2e86c1"/>
<text x="374.6" y="328.3" font-size="6.2" fill="#3a3a3a" text-anchor="middle" stroke="#3a3a3a" stroke-width="0.18">No</text>
<text x="403.8" y="328.3" font-size="6.2" fill="#3a3a3a" text-anchor="middle" stroke="#3a3a3a" stroke-width="0.18">Yes</text>
<text transform="translate(334.6,290) rotate(-90)" font-size="7.2" fill="#222" textLength="44" lengthAdjust="spacingAndGlyphs" text-anchor="middle" stroke="#222" stroke-width="0.12">Enrichment score</text>
<text x="480.6" y="258.0" font-size="7.6" fill="#222" text-anchor="middle">exhausted</text>
<line x1="449.2" y1="263.6" x2="449.2" y2="317.4" stroke="#222" stroke-width="1.25"/>
<line x1="446.2" y1="279" x2="449.2" y2="279" stroke="#222" stroke-width="0.8"/>
<text x="444.5" y="281.1328" font-size="6.2" fill="#3a3a3a" text-anchor="end" stroke="#3a3a3a" stroke-width="0.18">0.00</text>
<line x1="446.2" y1="297.7" x2="449.2" y2="297.7" stroke="#222" stroke-width="0.8"/>
<text x="444.5" y="299.83279999999996" font-size="6.2" fill="#3a3a3a" text-anchor="end" stroke="#3a3a3a" stroke-width="0.18">−0.05</text>
<line x1="449.2" y1="316.9" x2="512.7" y2="316.9" stroke="#222" stroke-width="1.25"/>
<line x1="466.2" y1="316.9" x2="466.2" y2="319.2" stroke="#222" stroke-width="0.8"/>
<line x1="495.3" y1="316.9" x2="495.3" y2="319.2" stroke="#222" stroke-width="0.8"/>
<line x1="466.2" y1="265.4" x2="466.2" y2="306.3" stroke="#b5263a" stroke-width="0.8"/>
<rect x="455.6" y="280.4" width="21.69999999999999" height="10.600000000000023" fill="#ec9185" fill-opacity="1" stroke="#b5263a" stroke-width="0.4" stroke-opacity="0.25"/>
<line x1="455.6" y1="282.3" x2="477.3" y2="282.3" stroke="#b5263a" stroke-width="1"/>
<line x1="495" y1="282.7" x2="495" y2="314" stroke="#4a9ad6" stroke-width="0.8"/>
<rect x="484.4" y="289.6" width="21.80000000000001" height="14.799999999999955" fill="#a9d5f5" fill-opacity="1" stroke="#4a9ad6" stroke-width="0.4" stroke-opacity="0.25"/>
<line x1="484.4" y1="295.4" x2="506.2" y2="295.4" stroke="#4a9ad6" stroke-width="1"/>
<circle cx="471.5" cy="265.4" r="1.1" fill="#a3182b"/>
<circle cx="458.1" cy="280.4" r="1.1" fill="#a3182b"/>
<circle cx="460.4" cy="280" r="1.1" fill="#a3182b"/>
<circle cx="473.5" cy="280" r="1.1" fill="#a3182b"/>
<circle cx="466.2" cy="285.8" r="1.1" fill="#a3182b"/>
<circle cx="465.8" cy="290.4" r="1.1" fill="#a3182b"/>
<circle cx="471.9" cy="291.5" r="1.1" fill="#a3182b"/>
<circle cx="460" cy="292.9" r="1.1" fill="#a3182b"/>
<circle cx="461.3" cy="305.8" r="1.1" fill="#a3182b"/>
<circle cx="503.7" cy="282.3" r="0.9" fill="#2e86c1"/>
<circle cx="492.7" cy="295.4" r="0.9" fill="#2e86c1"/>
<circle cx="494" cy="314" r="0.9" fill="#2e86c1"/>
<text x="466.2" y="328.5" font-size="6.2" fill="#3a3a3a" text-anchor="middle" stroke="#3a3a3a" stroke-width="0.18">No</text>
<text x="495.3" y="328.5" font-size="6.2" fill="#3a3a3a" text-anchor="middle" stroke="#3a3a3a" stroke-width="0.18">Yes</text>
<text x="435.5" y="339.3" font-size="8.6" fill="#222" textLength="55" lengthAdjust="spacingAndGlyphs" text-anchor="middle" stroke="#222" stroke-width="0.2">Blast reduction in BM</text>
<text x="7.0" y="365.5" font-size="10.6" fill="#111" font-weight="bold">E</text>
<line x1="45.5" y1="376.7" x2="45.5" y2="453" stroke="#222" stroke-width="1.25"/>
<line x1="42.5" y1="379.7" x2="45.5" y2="379.7" stroke="#222" stroke-width="0.8"/>
<line x1="42.5" y1="400.2" x2="45.5" y2="400.2" stroke="#222" stroke-width="0.8"/>
<line x1="42.5" y1="421" x2="45.5" y2="421" stroke="#222" stroke-width="0.8"/>
<line x1="42.5" y1="441.9" x2="45.5" y2="441.9" stroke="#222" stroke-width="0.8"/>
<text x="36.8" y="382.0" font-size="6.4" fill="#3a3a3a" text-anchor="end">10</text>
<text x="37.2" y="379.09999999999997" font-size="4.2" fill="#3a3a3a">5</text>
<text x="36.8" y="402.5" font-size="6.4" fill="#3a3a3a" text-anchor="end">10</text>
<text x="37.2" y="399.59999999999997" font-size="4.2" fill="#3a3a3a">4</text>
<text x="36.8" y="423.3" font-size="6.4" fill="#3a3a3a" text-anchor="end">10</text>
<text x="37.2" y="420.4" font-size="4.2" fill="#3a3a3a">3</text>
<text x="36.8" y="444.2" font-size="6.4" fill="#3a3a3a" text-anchor="end">10</text>
<text x="37.2" y="441.29999999999995" font-size="4.2" fill="#3a3a3a">2</text>
<line x1="43.5" y1="394.03" x2="45.5" y2="394.03" stroke="#222" stroke-width="0.6"/>
<line x1="43.5" y1="390.42" x2="45.5" y2="390.42" stroke="#222" stroke-width="0.6"/>
<line x1="43.5" y1="387.86" x2="45.5" y2="387.86" stroke="#222" stroke-width="0.6"/>
<line x1="43.5" y1="385.87" x2="45.5" y2="385.87" stroke="#222" stroke-width="0.6"/>
<line x1="43.5" y1="384.25" x2="45.5" y2="384.25" stroke="#222" stroke-width="0.6"/>
<line x1="43.5" y1="382.88" x2="45.5" y2="382.88" stroke="#222" stroke-width="0.6"/>
<line x1="43.5" y1="381.69" x2="45.5" y2="381.69" stroke="#222" stroke-width="0.6"/>
<line x1="43.5" y1="380.64" x2="45.5" y2="380.64" stroke="#222" stroke-width="0.6"/>
<line x1="43.5" y1="414.83" x2="45.5" y2="414.83" stroke="#222" stroke-width="0.6"/>
<line x1="43.5" y1="411.22" x2="45.5" y2="411.22" stroke="#222" stroke-width="0.6"/>
<line x1="43.5" y1="408.66" x2="45.5" y2="408.66" stroke="#222" stroke-width="0.6"/>
<line x1="43.5" y1="406.67" x2="45.5" y2="406.67" stroke="#222" stroke-width="0.6"/>
<line x1="43.5" y1="405.05" x2="45.5" y2="405.05" stroke="#222" stroke-width="0.6"/>
<line x1="43.5" y1="403.68" x2="45.5" y2="403.68" stroke="#222" stroke-width="0.6"/>
<line x1="43.5" y1="402.49" x2="45.5" y2="402.49" stroke="#222" stroke-width="0.6"/>
<line x1="43.5" y1="401.44" x2="45.5" y2="401.44" stroke="#222" stroke-width="0.6"/>
<line x1="43.5" y1="435.73" x2="45.5" y2="435.73" stroke="#222" stroke-width="0.6"/>
<line x1="43.5" y1="432.12" x2="45.5" y2="432.12" stroke="#222" stroke-width="0.6"/>
<line x1="43.5" y1="429.56" x2="45.5" y2="429.56" stroke="#222" stroke-width="0.6"/>
<line x1="43.5" y1="427.57" x2="45.5" y2="427.57" stroke="#222" stroke-width="0.6"/>
<line x1="43.5" y1="425.95" x2="45.5" y2="425.95" stroke="#222" stroke-width="0.6"/>
<line x1="43.5" y1="424.58" x2="45.5" y2="424.58" stroke="#222" stroke-width="0.6"/>
<line x1="43.5" y1="423.39" x2="45.5" y2="423.39" stroke="#222" stroke-width="0.6"/>
<line x1="43.5" y1="422.34" x2="45.5" y2="422.34" stroke="#222" stroke-width="0.6"/>
<line x1="43.5" y1="450.06" x2="45.5" y2="450.06" stroke="#222" stroke-width="0.6"/>
<line x1="43.5" y1="448.07" x2="45.5" y2="448.07" stroke="#222" stroke-width="0.6"/>
<line x1="43.5" y1="446.45" x2="45.5" y2="446.45" stroke="#222" stroke-width="0.6"/>
<line x1="43.5" y1="445.08" x2="45.5" y2="445.08" stroke="#222" stroke-width="0.6"/>
<line x1="43.5" y1="443.89" x2="45.5" y2="443.89" stroke="#222" stroke-width="0.6"/>
<line x1="43.5" y1="442.84" x2="45.5" y2="442.84" stroke="#222" stroke-width="0.6"/>
<line x1="45.5" y1="452.6" x2="82" y2="452.6" stroke="#222" stroke-width="1.25"/>
<line x1="47.5" y1="448.2" x2="82" y2="448.2" stroke="#2a5e40" stroke-width="0.8" stroke-dasharray="2,1.9"/>
<line x1="47.5" y1="448.2" x2="65.5" y2="448.2" stroke="#6a2535" stroke-width="0.8" stroke-dasharray="2,1.9"/>
<text x="47.5" y="451.3" font-size="2.8" fill="#d04a6a" textLength="17" lengthAdjust="spacingAndGlyphs" stroke="#d04a6a" stroke-width="0.18">LLOQ 0.02%</text>
<line x1="66.6" y1="452.4" x2="76.7" y2="452.4" stroke="#d0105a" stroke-width="1.1"/>
<line x1="55.6" y1="452.6" x2="55.6" y2="454.9" stroke="#222" stroke-width="0.8"/>
<line x1="71.3" y1="452.6" x2="71.3" y2="454.9" stroke="#222" stroke-width="0.8"/>
<text x="55.6" y="464.0" font-size="6.6" fill="#3a3a3a" textLength="11.4" lengthAdjust="spacingAndGlyphs" text-anchor="middle" stroke="#3a3a3a" stroke-width="0.18">YES</text>
<text x="71.3" y="464.0" font-size="6.6" fill="#3a3a3a" textLength="9.1" lengthAdjust="spacingAndGlyphs" text-anchor="middle" stroke="#3a3a3a" stroke-width="0.18">NO</text>
<text x="63.9" y="475.8" font-size="8.7" fill="#222" textLength="38" lengthAdjust="spacingAndGlyphs" text-anchor="middle" stroke="#222" stroke-width="0.2">Blast reduction</text>
<text x="63.6" y="485.2" font-size="8.7" fill="#222" textLength="13.3" lengthAdjust="spacingAndGlyphs" text-anchor="middle" stroke="#222" stroke-width="0.2">in PB</text>
<text transform="translate(15.6,414.5) rotate(-90)" font-size="7.2" fill="#222" textLength="63" lengthAdjust="spacingAndGlyphs" text-anchor="middle" stroke="#222" stroke-width="0.12">WT1 copy number (NCN)</text>
<text transform="translate(24.8,412.4) rotate(-90)" font-size="7.2" fill="#222" stroke="#222" stroke-width="0.2" text-anchor="middle" textLength="85" lengthAdjust="spacingAndGlyphs">normalized to 10<tspan font-size="4.5" dy="-2.5">−4</tspan><tspan dy="2.5"> ABL gene copies</tspan></text>
<line x1="49.2" y1="406.3" x2="62.6" y2="406.3" stroke="#d5d8a4" stroke-width="1.2"/>
<line x1="66" y1="408" x2="77.4" y2="408" stroke="#878ac2" stroke-width="1.2"/>
<circle cx="55.9" cy="388.1" r="1.0" fill="#111"/>
<circle cx="55.9" cy="393.9" r="1.0" fill="#111"/>
<circle cx="51.2" cy="399.8" r="1.0" fill="#111"/>
<circle cx="55.6" cy="402.2" r="1.0" fill="#111"/>
<circle cx="59.9" cy="402" r="1.0" fill="#111"/>
<circle cx="55.9" cy="406" r="1.0" fill="#111"/>
<circle cx="57.2" cy="406.5" r="1.0" fill="#111"/>
<circle cx="53.9" cy="408.3" r="1.0" fill="#111"/>
<circle cx="56.2" cy="410" r="1.0" fill="#111"/>
<circle cx="55.6" cy="414.6" r="1.0" fill="#111"/>
<circle cx="57.5" cy="418.3" r="1.0" fill="#111"/>
<circle cx="53.9" cy="419.7" r="1.0" fill="#111"/>
<circle cx="55.6" cy="423.7" r="1.0" fill="#111"/>
<circle cx="67.3" cy="396.9" r="1.0" fill="#111"/>
<circle cx="75.8" cy="397.5" r="1.0" fill="#111"/>
<circle cx="71.3" cy="398.5" r="1.0" fill="#111"/>
<circle cx="71.3" cy="400.6" r="1.0" fill="#111"/>
<circle cx="71.3" cy="404.9" r="1.0" fill="#111"/>
<circle cx="72.7" cy="406.9" r="1.0" fill="#111"/>
<circle cx="67.7" cy="408.3" r="1.0" fill="#111"/>
<circle cx="75.8" cy="407.3" r="1.0" fill="#111"/>
<circle cx="70" cy="409.6" r="1.0" fill="#111"/>
<circle cx="67.3" cy="412.7" r="1.0" fill="#111"/>
<circle cx="75.8" cy="414.3" r="1.0" fill="#111"/>
<circle cx="73.1" cy="417" r="1.0" fill="#111"/>
<circle cx="70" cy="418.1" r="1.0" fill="#111"/>
<circle cx="71.3" cy="429.1" r="1.0" fill="#111"/>
<circle cx="71.3" cy="436.1" r="1.0" fill="#111"/>
<text x="98.6" y="365.5" font-size="10.6" fill="#111" font-weight="bold">F</text>
<text x="148.5" y="370.5" font-size="6.2" fill="#222" text-anchor="middle" stroke="#222" stroke-width="0.18">WT1+</text>
<text x="191" y="370.5" font-size="6.2" fill="#222" text-anchor="middle" stroke="#222" stroke-width="0.18">HLA-A2+</text>
<line x1="128.5" y1="377.7" x2="128.5" y2="453" stroke="#222" stroke-width="1.25"/>
<line x1="125.5" y1="385.2" x2="128.5" y2="385.2" stroke="#222" stroke-width="0.8"/>
<text x="122.5" y="387.33279999999996" font-size="6.2" fill="#3a3a3a" text-anchor="end" stroke="#3a3a3a" stroke-width="0.18">99.9</text>
<line x1="125.5" y1="399.4" x2="128.5" y2="399.4" stroke="#222" stroke-width="0.8"/>
<text x="122.5" y="401.53279999999995" font-size="6.2" fill="#3a3a3a" text-anchor="end" stroke="#3a3a3a" stroke-width="0.18">99.3</text>
<line x1="125.5" y1="417.1" x2="128.5" y2="417.1" stroke="#222" stroke-width="0.8"/>
<text x="122.5" y="419.2328" font-size="6.2" fill="#3a3a3a" text-anchor="end" stroke="#3a3a3a" stroke-width="0.18">50</text>
<line x1="125.5" y1="434.9" x2="128.5" y2="434.9" stroke="#222" stroke-width="0.8"/>
<text x="122.5" y="437.03279999999995" font-size="6.2" fill="#3a3a3a" text-anchor="end" stroke="#3a3a3a" stroke-width="0.18">0.67</text>
<line x1="125.5" y1="449.3" x2="128.5" y2="449.3" stroke="#222" stroke-width="0.8"/>
<text x="122.5" y="451.4328" font-size="6.2" fill="#3a3a3a" text-anchor="end" stroke="#3a3a3a" stroke-width="0.18">0.02</text>
<line x1="128.5" y1="452.7" x2="169.1" y2="452.7" stroke="#222" stroke-width="1.25"/>
<line x1="171.4" y1="452.7" x2="211.5" y2="452.7" stroke="#222" stroke-width="1.25"/>
<line x1="139" y1="452.7" x2="139" y2="455" stroke="#222" stroke-width="0.8"/>
<text x="139" y="464.0" font-size="6.6" fill="#3a3a3a" textLength="11.4" lengthAdjust="spacingAndGlyphs" text-anchor="middle" stroke="#3a3a3a" stroke-width="0.18">YES</text>
<line x1="157.6" y1="452.7" x2="157.6" y2="455" stroke="#222" stroke-width="0.8"/>
<text x="157.6" y="464.0" font-size="6.6" fill="#3a3a3a" textLength="9.1" lengthAdjust="spacingAndGlyphs" text-anchor="middle" stroke="#3a3a3a" stroke-width="0.18">NO</text>
<line x1="183.2" y1="452.7" x2="183.2" y2="455" stroke="#222" stroke-width="0.8"/>
<text x="183.2" y="464.0" font-size="6.6" fill="#3a3a3a" textLength="11.4" lengthAdjust="spacingAndGlyphs" text-anchor="middle" stroke="#3a3a3a" stroke-width="0.18">YES</text>
<line x1="200.9" y1="452.7" x2="200.9" y2="455" stroke="#222" stroke-width="0.8"/>
<text x="200.9" y="464.0" font-size="6.6" fill="#3a3a3a" textLength="9.1" lengthAdjust="spacingAndGlyphs" text-anchor="middle" stroke="#3a3a3a" stroke-width="0.18">NO</text>
<text x="170.8" y="475.6" font-size="8.6" fill="#222" textLength="53.8" lengthAdjust="spacingAndGlyphs" text-anchor="middle" stroke="#222" stroke-width="0.2">Blast reduction in PB</text>
<text transform="translate(104.8,414.7) rotate(-90)" font-size="7.6" fill="#222" textLength="36.4" lengthAdjust="spacingAndGlyphs" text-anchor="middle" stroke="#222" stroke-width="0.12">% of PB blasts</text>
<line x1="139.1" y1="403" x2="159.1" y2="403" stroke="#555" stroke-width="1.6"/>
<text x="149.1" y="400.7" font-size="6.6" fill="#3a3a3a" text-anchor="middle" stroke="#3a3a3a" stroke-width="0.18">0.388</text>
<line x1="182.1" y1="382.4" x2="202.1" y2="382.4" stroke="#444" stroke-width="1.0"/>
<text x="191.9" y="379.5" font-size="6.6" fill="#3a3a3a" text-anchor="middle" stroke="#3a3a3a" stroke-width="0.18">0.388</text>
<line x1="133.5" y1="427.8" x2="144.8" y2="427.8" stroke="#d5d8a4" stroke-width="1.2"/>
<line x1="152.1" y1="424.1" x2="164.2" y2="424.1" stroke="#878ac2" stroke-width="1.2"/>
<line x1="177" y1="396.3" x2="187.8" y2="396.3" stroke="#d5d8a4" stroke-width="1.2"/>
<line x1="195.5" y1="398.8" x2="207.4" y2="398.8" stroke="#878ac2" stroke-width="1.2"/>
<circle cx="138.4" cy="410.5" r="0.9" fill="#111"/>
<circle cx="141.7" cy="411.7" r="0.9" fill="#111"/>
<circle cx="140.9" cy="416.3" r="0.9" fill="#111"/>
<circle cx="140.1" cy="417.5" r="0.9" fill="#111"/>
<circle cx="138.7" cy="419.3" r="0.9" fill="#111"/>
<circle cx="140.3" cy="422.9" r="0.9" fill="#111"/>
<circle cx="137" cy="435" r="0.9" fill="#111"/>
<circle cx="141.7" cy="434.6" r="0.9" fill="#111"/>
<circle cx="137.4" cy="440.4" r="0.9" fill="#111"/>
<circle cx="137.8" cy="442" r="0.9" fill="#111"/>
<circle cx="137.4" cy="442.9" r="0.9" fill="#111"/>
<circle cx="138.5" cy="442.7" r="0.9" fill="#111"/>
<circle cx="159.1" cy="405.8" r="0.9" fill="#111"/>
<circle cx="155.6" cy="411.3" r="0.9" fill="#111"/>
<circle cx="160.3" cy="412.4" r="0.9" fill="#111"/>
<circle cx="159.4" cy="414.4" r="0.9" fill="#111"/>
<circle cx="159.2" cy="415.5" r="0.9" fill="#111"/>
<circle cx="155.6" cy="418.6" r="0.9" fill="#111"/>
<circle cx="158" cy="418.6" r="0.9" fill="#111"/>
<circle cx="158.3" cy="419.8" r="0.9" fill="#111"/>
<circle cx="157.6" cy="421" r="0.9" fill="#111"/>
<circle cx="159.1" cy="423.3" r="0.9" fill="#111"/>
<circle cx="157.2" cy="424.1" r="0.9" fill="#111"/>
<circle cx="158" cy="424.9" r="0.9" fill="#111"/>
<circle cx="156.8" cy="426.4" r="0.9" fill="#111"/>
<circle cx="160.3" cy="430.7" r="0.9" fill="#111"/>
<circle cx="158.3" cy="435.7" r="0.9" fill="#111"/>
<circle cx="158.3" cy="438.1" r="0.9" fill="#111"/>
<circle cx="155.2" cy="442.3" r="0.9" fill="#111"/>
<circle cx="156" cy="446.6" r="0.9" fill="#111"/>
<circle cx="182.8" cy="385.5" r="0.9" fill="#111"/>
<circle cx="183.9" cy="385.5" r="0.9" fill="#111"/>
<circle cx="182.8" cy="392.2" r="0.9" fill="#111"/>
<circle cx="183.5" cy="392.2" r="0.9" fill="#111"/>
<circle cx="184.7" cy="392.2" r="0.9" fill="#111"/>
<circle cx="179.7" cy="396.5" r="0.9" fill="#111"/>
<circle cx="180.5" cy="396.5" r="0.9" fill="#111"/>
<circle cx="181.2" cy="396.5" r="0.9" fill="#111"/>
<circle cx="179.7" cy="397.6" r="0.9" fill="#111"/>
<circle cx="179.7" cy="398.6" r="0.9" fill="#111"/>
<circle cx="183.2" cy="402.2" r="0.9" fill="#111"/>
<circle cx="184.2" cy="404.9" r="0.9" fill="#111"/>
<circle cx="183.4" cy="419.9" r="0.9" fill="#111"/>
<circle cx="199.3" cy="385.5" r="0.9" fill="#111"/>
<circle cx="200.8" cy="385.5" r="0.9" fill="#111"/>
<circle cx="202.4" cy="385.5" r="0.9" fill="#111"/>
<circle cx="203.5" cy="385.5" r="0.9" fill="#111"/>
<circle cx="200.8" cy="392.2" r="0.9" fill="#111"/>
<circle cx="203.4" cy="392.2" r="0.9" fill="#111"/>
<circle cx="198.9" cy="394.5" r="0.9" fill="#111"/>
<circle cx="198.5" cy="399.2" r="0.9" fill="#111"/>
<circle cx="199.7" cy="399.9" r="0.9" fill="#111"/>
<circle cx="201.2" cy="401.1" r="0.9" fill="#111"/>
<circle cx="202.4" cy="401.5" r="0.9" fill="#111"/>
<circle cx="199.5" cy="401" r="0.9" fill="#111"/>
<circle cx="200.5" cy="403.4" r="0.9" fill="#111"/>
<circle cx="203.4" cy="405.3" r="0.9" fill="#111"/>
<circle cx="198.5" cy="407.2" r="0.9" fill="#111"/>
<circle cx="199.7" cy="407.8" r="0.9" fill="#111"/>
<circle cx="200.8" cy="411.1" r="0.9" fill="#111"/>
<circle cx="201.2" cy="418.4" r="0.9" fill="#111"/>
<text x="272.3" y="370.5" font-size="6.2" fill="#222" text-anchor="middle" stroke="#222" stroke-width="0.18">WT1+</text>
<text x="315.4" y="370.5" font-size="6.2" fill="#222" text-anchor="middle" stroke="#222" stroke-width="0.18">HLA-A2+</text>
<line x1="252" y1="377.7" x2="252" y2="453" stroke="#222" stroke-width="1.25"/>
<line x1="249" y1="383" x2="252" y2="383" stroke="#222" stroke-width="0.8"/>
<text x="246.2" y="385.1328" font-size="6.2" fill="#3a3a3a" text-anchor="end" stroke="#3a3a3a" stroke-width="0.18">99.9</text>
<line x1="249" y1="396.6" x2="252" y2="396.6" stroke="#222" stroke-width="0.8"/>
<text x="246.2" y="398.7328" font-size="6.2" fill="#3a3a3a" text-anchor="end" stroke="#3a3a3a" stroke-width="0.18">99.3</text>
<line x1="249" y1="414.5" x2="252" y2="414.5" stroke="#222" stroke-width="0.8"/>
<text x="246.2" y="416.6328" font-size="6.2" fill="#3a3a3a" text-anchor="end" stroke="#3a3a3a" stroke-width="0.18">50</text>
<line x1="249" y1="432.4" x2="252" y2="432.4" stroke="#222" stroke-width="0.8"/>
<text x="246.2" y="434.53279999999995" font-size="6.2" fill="#3a3a3a" text-anchor="end" stroke="#3a3a3a" stroke-width="0.18">0.67</text>
<line x1="249" y1="446.7" x2="252" y2="446.7" stroke="#222" stroke-width="0.8"/>
<text x="246.2" y="448.83279999999996" font-size="6.2" fill="#3a3a3a" text-anchor="end" stroke="#3a3a3a" stroke-width="0.18">0.02</text>
<line x1="252" y1="452.7" x2="292.6" y2="452.7" stroke="#222" stroke-width="1.25"/>
<line x1="294.9" y1="452.7" x2="336" y2="452.7" stroke="#222" stroke-width="1.25"/>
<line x1="263.2" y1="452.7" x2="263.2" y2="455" stroke="#222" stroke-width="0.8"/>
<text x="263.2" y="464.0" font-size="6.6" fill="#3a3a3a" textLength="11.4" lengthAdjust="spacingAndGlyphs" text-anchor="middle" stroke="#3a3a3a" stroke-width="0.18">YES</text>
<line x1="281.8" y1="452.7" x2="281.8" y2="455" stroke="#222" stroke-width="0.8"/>
<text x="281.8" y="464.0" font-size="6.6" fill="#3a3a3a" textLength="9.1" lengthAdjust="spacingAndGlyphs" text-anchor="middle" stroke="#3a3a3a" stroke-width="0.18">NO</text>
<line x1="306.1" y1="452.7" x2="306.1" y2="455" stroke="#222" stroke-width="0.8"/>
<text x="306.1" y="464.0" font-size="6.6" fill="#3a3a3a" textLength="11.4" lengthAdjust="spacingAndGlyphs" text-anchor="middle" stroke="#3a3a3a" stroke-width="0.18">YES</text>
<line x1="325" y1="452.7" x2="325" y2="455" stroke="#222" stroke-width="0.8"/>
<text x="325" y="464.0" font-size="6.6" fill="#3a3a3a" textLength="9.1" lengthAdjust="spacingAndGlyphs" text-anchor="middle" stroke="#3a3a3a" stroke-width="0.18">NO</text>
<text x="293.8" y="475.6" font-size="8.6" fill="#222" textLength="53.8" lengthAdjust="spacingAndGlyphs" text-anchor="middle" stroke="#222" stroke-width="0.2">Blast reduction in BM</text>
<text transform="translate(229.3,414.6) rotate(-90)" font-size="7.6" fill="#222" textLength="39.4" lengthAdjust="spacingAndGlyphs" text-anchor="middle" stroke="#222" stroke-width="0.12">% of BM blasts</text>
<line x1="256.9" y1="436.5" x2="268.8" y2="436.5" stroke="#d5d8a4" stroke-width="1.2"/>
<line x1="276.2" y1="424.5" x2="287.3" y2="424.5" stroke="#878ac2" stroke-width="1.2"/>
<line x1="300.2" y1="401.2" x2="311.9" y2="401.2" stroke="#d5d8a4" stroke-width="1.2"/>
<line x1="319.9" y1="395.8" x2="329.8" y2="395.8" stroke="#878ac2" stroke-width="1.2"/>
<circle cx="264.4" cy="433.1" r="0.9" fill="#111"/>
<circle cx="265.4" cy="440.4" r="0.9" fill="#111"/>
<circle cx="280.8" cy="406" r="0.9" fill="#111"/>
<circle cx="282.7" cy="405.5" r="0.9" fill="#111"/>
<circle cx="279.5" cy="410.8" r="0.9" fill="#111"/>
<circle cx="281.5" cy="410.4" r="0.9" fill="#111"/>
<circle cx="282.3" cy="409.8" r="0.9" fill="#111"/>
<circle cx="281.2" cy="413.8" r="0.9" fill="#111"/>
<circle cx="282.7" cy="417.7" r="0.9" fill="#111"/>
<circle cx="281.9" cy="420" r="0.9" fill="#111"/>
<circle cx="284.2" cy="423.1" r="0.9" fill="#111"/>
<circle cx="281.5" cy="424.6" r="0.9" fill="#111"/>
<circle cx="282.7" cy="425" r="0.9" fill="#111"/>
<circle cx="283.1" cy="426.9" r="0.9" fill="#111"/>
<circle cx="281.2" cy="431.5" r="0.9" fill="#111"/>
<circle cx="281.9" cy="432.3" r="0.9" fill="#111"/>
<circle cx="282.3" cy="431.5" r="0.9" fill="#111"/>
<circle cx="284.2" cy="435.8" r="0.9" fill="#111"/>
<circle cx="279.2" cy="437.3" r="0.9" fill="#111"/>
<circle cx="281.9" cy="444.2" r="0.9" fill="#111"/>
<circle cx="281.9" cy="446.5" r="0.9" fill="#111"/>
<circle cx="306.1" cy="382.4" r="0.9" fill="#111"/>
<circle cx="304.3" cy="420.5" r="0.9" fill="#111"/>
<circle cx="326.6" cy="382.4" r="0.9" fill="#111"/>
<circle cx="322.6" cy="392.2" r="0.9" fill="#111"/>
<circle cx="325.3" cy="393.1" r="0.9" fill="#111"/>
<circle cx="327.1" cy="394.9" r="0.9" fill="#111"/>
<circle cx="323.5" cy="395.8" r="0.9" fill="#111"/>
<circle cx="325.8" cy="397.6" r="0.9" fill="#111"/>
<circle cx="328" cy="398.5" r="0.9" fill="#111"/>
<circle cx="324.4" cy="402.1" r="0.9" fill="#111"/>
<circle cx="324" cy="405.7" r="0.9" fill="#111"/>
<circle cx="325.3" cy="406.6" r="0.9" fill="#111"/>
<circle cx="322.6" cy="409.8" r="0.9" fill="#111"/>
<text x="351.2" y="365.5" font-size="10.6" fill="#111" font-weight="bold">H</text>
<line x1="376.5" y1="376.9" x2="376.5" y2="453.3" stroke="#222" stroke-width="1.25"/>
<line x1="373.5" y1="380.20000000000005" x2="376.5" y2="380.20000000000005" stroke="#222" stroke-width="0.8"/>
<text x="371" y="382.57360000000006" font-size="6.9" fill="#3a3a3a" text-anchor="end" stroke="#3a3a3a" stroke-width="0.18">40</text>
<line x1="373.5" y1="398.35" x2="376.5" y2="398.35" stroke="#222" stroke-width="0.8"/>
<text x="371" y="400.72360000000003" font-size="6.9" fill="#3a3a3a" text-anchor="end" stroke="#3a3a3a" stroke-width="0.18">30</text>
<line x1="373.5" y1="416.5" x2="376.5" y2="416.5" stroke="#222" stroke-width="0.8"/>
<text x="371" y="418.8736" font-size="6.9" fill="#3a3a3a" text-anchor="end" stroke="#3a3a3a" stroke-width="0.18">20</text>
<line x1="373.5" y1="434.65000000000003" x2="376.5" y2="434.65000000000003" stroke="#222" stroke-width="0.8"/>
<text x="371" y="437.02360000000004" font-size="6.9" fill="#3a3a3a" text-anchor="end" stroke="#3a3a3a" stroke-width="0.18">10</text>
<line x1="373.5" y1="452.8" x2="376.5" y2="452.8" stroke="#222" stroke-width="0.8"/>
<text x="371" y="455.1736" font-size="6.9" fill="#3a3a3a" text-anchor="end" stroke="#3a3a3a" stroke-width="0.18">0</text>
<line x1="376.5" y1="452.8" x2="510" y2="452.8" stroke="#222" stroke-width="1.25"/>
<text transform="translate(357.9,415) rotate(-90)" font-size="7.2" fill="#222" textLength="49" lengthAdjust="spacingAndGlyphs" text-anchor="middle" stroke="#222" stroke-width="0.12">%WT1+ at baseline</text>
<line x1="391.3" y1="398.1" x2="391.3" y2="452.8" stroke="#333" stroke-width="0.8"/>
<line x1="387.8" y1="398.1" x2="394.8" y2="398.1" stroke="#222" stroke-width="1.2"/>
<rect x="384.0" y="424.4" width="14.5" height="19.30000000000001" fill="#f2a3a3"/>
<line x1="384.0" y1="431.0" x2="398.5" y2="431.0" stroke="#222" stroke-width="0.9"/>
<line x1="391.3" y1="452.8" x2="391.3" y2="455.1" stroke="#222" stroke-width="0.8"/>
<text transform="translate(393.90000000000003,462.0) rotate(-45)" font-size="6.6" fill="#3a3a3a" text-anchor="end" stroke="#3a3a3a" stroke-width="0.18">GMP-like</text>
<line x1="409.2" y1="410.2" x2="409.2" y2="452.8" stroke="#333" stroke-width="0.8"/>
<line x1="405.7" y1="410.2" x2="412.7" y2="410.2" stroke="#222" stroke-width="1.2"/>
<rect x="402.2" y="432.1" width="14.100000000000023" height="20.69999999999999" fill="#cc1130"/>
<line x1="402.2" y1="443.3" x2="416.3" y2="443.3" stroke="#222" stroke-width="0.9"/>
<line x1="409.2" y1="452.8" x2="409.2" y2="455.1" stroke="#222" stroke-width="0.8"/>
<text transform="translate(411.8,462.0) rotate(-45)" font-size="6.6" fill="#3a3a3a" text-anchor="end" stroke="#3a3a3a" stroke-width="0.18">cDC-like</text>
<line x1="427.1" y1="405.0" x2="427.1" y2="452.8" stroke="#333" stroke-width="0.8"/>
<line x1="423.6" y1="405.0" x2="430.6" y2="405.0" stroke="#222" stroke-width="1.2"/>
<rect x="420.2" y="427.8" width="13.800000000000011" height="25.0" fill="#c9761c"/>
<line x1="420.2" y1="445.2" x2="434.0" y2="445.2" stroke="#222" stroke-width="0.9"/>
<line x1="427.1" y1="452.8" x2="427.1" y2="455.1" stroke="#222" stroke-width="0.8"/>
<text transform="translate(429.70000000000005,462.0) rotate(-45)" font-size="6.6" fill="#3a3a3a" text-anchor="end" stroke="#3a3a3a" stroke-width="0.18">ProMono-like</text>
<line x1="445.0" y1="410.7" x2="445.0" y2="452.8" stroke="#333" stroke-width="0.8"/>
<line x1="441.5" y1="410.7" x2="448.5" y2="410.7" stroke="#222" stroke-width="1.2"/>
<rect x="438.2" y="445.3" width="13.800000000000011" height="6.800000000000011" fill="#f6c81a"/>
<line x1="438.2" y1="448.5" x2="452.0" y2="448.5" stroke="#222" stroke-width="0.9"/>
<line x1="445.0" y1="452.8" x2="445.0" y2="455.1" stroke="#222" stroke-width="0.8"/>
<text transform="translate(447.6,462.0) rotate(-45)" font-size="6.6" fill="#3a3a3a" text-anchor="end" stroke="#3a3a3a" stroke-width="0.18">Mono-like</text>
<line x1="462.7" y1="393.7" x2="462.7" y2="452.8" stroke="#333" stroke-width="0.8"/>
<line x1="459.2" y1="393.7" x2="466.2" y2="393.7" stroke="#222" stroke-width="1.2"/>
<rect x="455.9" y="416.0" width="13.700000000000045" height="26.0" fill="#0f4c82"/>
<line x1="455.9" y1="432.3" x2="469.6" y2="432.3" stroke="#222" stroke-width="0.9"/>
<line x1="462.7" y1="452.8" x2="462.7" y2="455.1" stroke="#222" stroke-width="0.8"/>
<text transform="translate(465.3,462.0) rotate(-45)" font-size="6.6" fill="#3a3a3a" text-anchor="end" stroke="#3a3a3a" stroke-width="0.18">LSPC-Primed</text>
<line x1="480.7" y1="392.2" x2="480.7" y2="452.8" stroke="#333" stroke-width="0.8"/>
<line x1="477.2" y1="392.2" x2="484.2" y2="392.2" stroke="#222" stroke-width="1.2"/>
<rect x="473.7" y="418.2" width="13.900000000000034" height="21.600000000000023" fill="#2ba6e2"/>
<line x1="473.7" y1="427.5" x2="487.6" y2="427.5" stroke="#222" stroke-width="0.9"/>
<line x1="480.7" y1="452.8" x2="480.7" y2="455.1" stroke="#222" stroke-width="0.8"/>
<text transform="translate(483.3,462.0) rotate(-45)" font-size="6.6" fill="#3a3a3a" text-anchor="end" stroke="#3a3a3a" stroke-width="0.18">LSPC-Cycle</text>
<line x1="498.5" y1="396.5" x2="498.5" y2="452.8" stroke="#333" stroke-width="0.8"/>
<line x1="495.0" y1="396.5" x2="502.0" y2="396.5" stroke="#222" stroke-width="1.2"/>
<rect x="492.0" y="419.3" width="13.399999999999977" height="22.399999999999977" fill="#6b2a7c"/>
<line x1="492.0" y1="433.3" x2="505.4" y2="433.3" stroke="#222" stroke-width="0.9"/>
<line x1="498.5" y1="452.8" x2="498.5" y2="455.1" stroke="#222" stroke-width="0.8"/>
<text transform="translate(501.1,462.0) rotate(-45)" font-size="6.6" fill="#3a3a3a" text-anchor="end" stroke="#3a3a3a" stroke-width="0.18">LSPC-Quiescent</text>
<circle cx="389.8" cy="420.6" r="0.85" fill="#111"/>
<circle cx="392.7" cy="420.6" r="0.85" fill="#111"/>
<circle cx="391.5" cy="425.2" r="0.85" fill="#111"/>
<circle cx="391" cy="427.5" r="0.85" fill="#111"/>
<circle cx="391.5" cy="429.2" r="0.85" fill="#111"/>
<circle cx="389.8" cy="430.4" r="0.85" fill="#111"/>
<circle cx="391.5" cy="430.4" r="0.85" fill="#111"/>
<circle cx="393.8" cy="431" r="0.85" fill="#111"/>
<circle cx="391.5" cy="432.1" r="0.85" fill="#111"/>
<circle cx="389.8" cy="443.7" r="0.85" fill="#111"/>
<circle cx="392.7" cy="443.7" r="0.85" fill="#111"/>
<circle cx="391.5" cy="446.5" r="0.85" fill="#111"/>
<circle cx="391.5" cy="452.3" r="0.85" fill="#111"/>
<circle cx="407.7" cy="430.6" r="0.85" fill="#111"/>
<circle cx="410.6" cy="430.6" r="0.85" fill="#111"/>
<circle cx="408.8" cy="433.8" r="0.85" fill="#111"/>
<circle cx="407.7" cy="440.8" r="0.85" fill="#111"/>
<circle cx="410.6" cy="440.8" r="0.85" fill="#111"/>
<circle cx="407.7" cy="443.7" r="0.85" fill="#111"/>
<circle cx="410.6" cy="443.7" r="0.85" fill="#111"/>
<circle cx="407.7" cy="446.5" r="0.85" fill="#111"/>
<circle cx="410.6" cy="446.5" r="0.85" fill="#111"/>
<circle cx="409.2" cy="452.3" r="0.85" fill="#111"/>
<circle cx="427.1" cy="407.1" r="0.85" fill="#111"/>
<circle cx="427.1" cy="426.7" r="0.85" fill="#111"/>
<circle cx="424.4" cy="428.7" r="0.85" fill="#111"/>
<circle cx="427.1" cy="429.2" r="0.85" fill="#111"/>
<circle cx="427.1" cy="433.8" r="0.85" fill="#111"/>
<circle cx="427.1" cy="445.2" r="0.85" fill="#111"/>
<circle cx="429.6" cy="446" r="0.85" fill="#111"/>
<circle cx="427.1" cy="447.1" r="0.85" fill="#111"/>
<circle cx="422.5" cy="452.3" r="0.85" fill="#111"/>
<circle cx="425.2" cy="452.3" r="0.85" fill="#111"/>
<circle cx="429.3" cy="452.3" r="0.85" fill="#111"/>
<circle cx="444.8" cy="427.5" r="0.85" fill="#111"/>
<circle cx="444.8" cy="442.7" r="0.85" fill="#111"/>
<circle cx="441" cy="447" r="0.85" fill="#111"/>
<circle cx="443.7" cy="446.3" r="0.85" fill="#111"/>
<circle cx="446.5" cy="447" r="0.85" fill="#111"/>
<circle cx="448.7" cy="447.8" r="0.85" fill="#111"/>
<circle cx="442.2" cy="449.2" r="0.85" fill="#111"/>
<circle cx="445" cy="449.6" r="0.85" fill="#111"/>
<circle cx="447.5" cy="450.3" r="0.85" fill="#111"/>
<circle cx="443.5" cy="451.5" r="0.85" fill="#111"/>
<circle cx="462.7" cy="407.8" r="0.85" fill="#111"/>
<circle cx="462.7" cy="411.3" r="0.85" fill="#111"/>
<circle cx="462.7" cy="418.2" r="0.85" fill="#111"/>
<circle cx="462.7" cy="426.8" r="0.85" fill="#111"/>
<circle cx="461.7" cy="432.6" r="0.85" fill="#111"/>
<circle cx="462.7" cy="436.2" r="0.85" fill="#111"/>
<circle cx="462.7" cy="444.1" r="0.85" fill="#111"/>
<circle cx="463.8" cy="451.6" r="0.85" fill="#111"/>
<circle cx="480.9" cy="402.3" r="0.85" fill="#111"/>
<circle cx="480.9" cy="416.7" r="0.85" fill="#111"/>
<circle cx="479" cy="418.5" r="0.85" fill="#111"/>
<circle cx="478.7" cy="424" r="0.85" fill="#111"/>
<circle cx="481.9" cy="424" r="0.85" fill="#111"/>
<circle cx="480.4" cy="426.8" r="0.85" fill="#111"/>
<circle cx="482.6" cy="426.8" r="0.85" fill="#111"/>
<circle cx="480.9" cy="428.3" r="0.85" fill="#111"/>
<circle cx="480.9" cy="432.6" r="0.85" fill="#111"/>
<circle cx="480.9" cy="439.1" r="0.85" fill="#111"/>
<circle cx="480.9" cy="442.4" r="0.85" fill="#111"/>
<circle cx="498.5" cy="415.3" r="0.85" fill="#111"/>
<circle cx="498.5" cy="426.1" r="0.85" fill="#111"/>
<circle cx="498.5" cy="431.2" r="0.85" fill="#111"/>
<circle cx="498.5" cy="434.8" r="0.85" fill="#111"/>
<circle cx="498.5" cy="438.4" r="0.85" fill="#111"/>
<circle cx="498.5" cy="444.1" r="0.85" fill="#111"/>
<text x="6.8" y="523.8" font-size="10.6" fill="#111" font-weight="bold">G</text>
<line x1="33.2" y1="564.38" x2="35.2" y2="564.38" stroke="#222" stroke-width="0.6"/>
<line x1="33.2" y1="557.94" x2="35.2" y2="557.94" stroke="#222" stroke-width="0.6"/>
<line x1="33.2" y1="553.36" x2="35.2" y2="553.36" stroke="#222" stroke-width="0.6"/>
<line x1="33.2" y1="549.82" x2="35.2" y2="549.82" stroke="#222" stroke-width="0.6"/>
<line x1="33.2" y1="546.92" x2="35.2" y2="546.92" stroke="#222" stroke-width="0.6"/>
<line x1="33.2" y1="544.47" x2="35.2" y2="544.47" stroke="#222" stroke-width="0.6"/>
<line x1="33.2" y1="542.35" x2="35.2" y2="542.35" stroke="#222" stroke-width="0.6"/>
<line x1="33.2" y1="540.47" x2="35.2" y2="540.47" stroke="#222" stroke-width="0.6"/>
<line x1="33.2" y1="600.98" x2="35.2" y2="600.98" stroke="#222" stroke-width="0.6"/>
<line x1="33.2" y1="594.54" x2="35.2" y2="594.54" stroke="#222" stroke-width="0.6"/>
<line x1="33.2" y1="589.96" x2="35.2" y2="589.96" stroke="#222" stroke-width="0.6"/>
<line x1="33.2" y1="586.42" x2="35.2" y2="586.42" stroke="#222" stroke-width="0.6"/>
<line x1="33.2" y1="583.52" x2="35.2" y2="583.52" stroke="#222" stroke-width="0.6"/>
<line x1="33.2" y1="581.07" x2="35.2" y2="581.07" stroke="#222" stroke-width="0.6"/>
<line x1="33.2" y1="578.95" x2="35.2" y2="578.95" stroke="#222" stroke-width="0.6"/>
<line x1="33.2" y1="577.07" x2="35.2" y2="577.07" stroke="#222" stroke-width="0.6"/>
<line x1="138.4" y1="564.38" x2="140.4" y2="564.38" stroke="#222" stroke-width="0.6"/>
<line x1="138.4" y1="557.94" x2="140.4" y2="557.94" stroke="#222" stroke-width="0.6"/>
<line x1="138.4" y1="553.36" x2="140.4" y2="553.36" stroke="#222" stroke-width="0.6"/>
<line x1="138.4" y1="549.82" x2="140.4" y2="549.82" stroke="#222" stroke-width="0.6"/>
<line x1="138.4" y1="546.92" x2="140.4" y2="546.92" stroke="#222" stroke-width="0.6"/>
<line x1="138.4" y1="544.47" x2="140.4" y2="544.47" stroke="#222" stroke-width="0.6"/>
<line x1="138.4" y1="542.35" x2="140.4" y2="542.35" stroke="#222" stroke-width="0.6"/>
<line x1="138.4" y1="540.47" x2="140.4" y2="540.47" stroke="#222" stroke-width="0.6"/>
<line x1="138.4" y1="600.98" x2="140.4" y2="600.98" stroke="#222" stroke-width="0.6"/>
<line x1="138.4" y1="594.54" x2="140.4" y2="594.54" stroke="#222" stroke-width="0.6"/>
<line x1="138.4" y1="589.96" x2="140.4" y2="589.96" stroke="#222" stroke-width="0.6"/>
<line x1="138.4" y1="586.42" x2="140.4" y2="586.42" stroke="#222" stroke-width="0.6"/>
<line x1="138.4" y1="583.52" x2="140.4" y2="583.52" stroke="#222" stroke-width="0.6"/>
<line x1="138.4" y1="581.07" x2="140.4" y2="581.07" stroke="#222" stroke-width="0.6"/>
<line x1="138.4" y1="578.95" x2="140.4" y2="578.95" stroke="#222" stroke-width="0.6"/>
<line x1="138.4" y1="577.07" x2="140.4" y2="577.07" stroke="#222" stroke-width="0.6"/>
<line x1="35.2" y1="536.5" x2="35.2" y2="612.3" stroke="#222" stroke-width="1.25"/>
<line x1="32.2" y1="538.8" x2="35.2" y2="538.8" stroke="#222" stroke-width="0.8"/>
<text x="30" y="540.9327999999999" font-size="6.2" fill="#3a3a3a" text-anchor="end" stroke="#3a3a3a" stroke-width="0.18">100</text>
<line x1="32.2" y1="575.4" x2="35.2" y2="575.4" stroke="#222" stroke-width="0.8"/>
<text x="30" y="577.5328" font-size="6.2" fill="#3a3a3a" text-anchor="end" stroke="#3a3a3a" stroke-width="0.18">10</text>
<line x1="32.2" y1="611.8" x2="35.2" y2="611.8" stroke="#222" stroke-width="0.8"/>
<text x="30" y="613.9327999999999" font-size="6.2" fill="#3a3a3a" text-anchor="end" stroke="#3a3a3a" stroke-width="0.18">1</text>
<line x1="35.2" y1="611.8" x2="100.5" y2="611.8" stroke="#222" stroke-width="1.25"/>
<line x1="45.6" y1="611.8" x2="45.6" y2="614.1" stroke="#222" stroke-width="0.8"/>
<text transform="translate(49.2,622.6) rotate(-45)" font-size="6.5" fill="#3a3a3a" text-anchor="end" stroke="#3a3a3a" stroke-width="0.18">SCRN</text>
<line x1="55.8" y1="611.8" x2="55.8" y2="614.1" stroke="#222" stroke-width="0.8"/>
<text transform="translate(59.4,622.6) rotate(-45)" font-size="6.5" fill="#3a3a3a" text-anchor="end" stroke="#3a3a3a" stroke-width="0.18">C2D1</text>
<line x1="66.3" y1="611.8" x2="66.3" y2="614.1" stroke="#222" stroke-width="0.8"/>
<text transform="translate(69.89999999999999,622.6) rotate(-45)" font-size="6.5" fill="#3a3a3a" text-anchor="end" stroke="#3a3a3a" stroke-width="0.18">C2D13</text>
<line x1="76.9" y1="611.8" x2="76.9" y2="614.1" stroke="#222" stroke-width="0.8"/>
<text transform="translate(80.5,622.6) rotate(-45)" font-size="6.5" fill="#3a3a3a" text-anchor="end" stroke="#3a3a3a" stroke-width="0.18">C3D1</text>
<line x1="87.1" y1="611.8" x2="87.1" y2="614.1" stroke="#222" stroke-width="0.8"/>
<text transform="translate(90.69999999999999,622.6) rotate(-45)" font-size="6.5" fill="#3a3a3a" text-anchor="end" stroke="#3a3a3a" stroke-width="0.18">C4D9</text>
<line x1="97.5" y1="611.8" x2="97.5" y2="614.1" stroke="#222" stroke-width="0.8"/>
<text transform="translate(101.1,622.6) rotate(-45)" font-size="6.5" fill="#3a3a3a" text-anchor="end" stroke="#3a3a3a" stroke-width="0.18">C6D1</text>
<text transform="translate(13.5,573.5) rotate(-90)" font-size="7.4" fill="#222" textLength="52" lengthAdjust="spacingAndGlyphs" text-anchor="middle" stroke="#222" stroke-width="0.12">WT1+ (%AML cells)</text>
<line x1="140.4" y1="536.5" x2="140.4" y2="612.3" stroke="#222" stroke-width="1.25"/>
<line x1="137.4" y1="538.8" x2="140.4" y2="538.8" stroke="#222" stroke-width="0.8"/>
<text x="135" y="540.9327999999999" font-size="6.2" fill="#3a3a3a" text-anchor="end" stroke="#3a3a3a" stroke-width="0.18">100</text>
<line x1="137.4" y1="575.4" x2="140.4" y2="575.4" stroke="#222" stroke-width="0.8"/>
<text x="135" y="577.5328" font-size="6.2" fill="#3a3a3a" text-anchor="end" stroke="#3a3a3a" stroke-width="0.18">10</text>
<line x1="137.4" y1="611.8" x2="140.4" y2="611.8" stroke="#222" stroke-width="0.8"/>
<text x="135" y="613.9327999999999" font-size="6.2" fill="#3a3a3a" text-anchor="end" stroke="#3a3a3a" stroke-width="0.18">1</text>
<line x1="140.4" y1="611.8" x2="214.2" y2="611.8" stroke="#222" stroke-width="1.25"/>
<line x1="150.8" y1="611.8" x2="150.8" y2="614.1" stroke="#222" stroke-width="0.8"/>
<text transform="translate(154.4,622.6) rotate(-45)" font-size="6.5" fill="#3a3a3a" text-anchor="end" stroke="#3a3a3a" stroke-width="0.18">SCRN</text>
<line x1="161.2" y1="611.8" x2="161.2" y2="614.1" stroke="#222" stroke-width="0.8"/>
<text transform="translate(164.79999999999998,622.6) rotate(-45)" font-size="6.5" fill="#3a3a3a" text-anchor="end" stroke="#3a3a3a" stroke-width="0.18">C2D1</text>
<line x1="172" y1="611.8" x2="172" y2="614.1" stroke="#222" stroke-width="0.8"/>
<text transform="translate(175.6,622.6) rotate(-45)" font-size="6.5" fill="#3a3a3a" text-anchor="end" stroke="#3a3a3a" stroke-width="0.18">C2D13</text>
<line x1="182.6" y1="611.8" x2="182.6" y2="614.1" stroke="#222" stroke-width="0.8"/>
<text transform="translate(186.2,622.6) rotate(-45)" font-size="6.5" fill="#3a3a3a" text-anchor="end" stroke="#3a3a3a" stroke-width="0.18">C3D1</text>
<line x1="192.8" y1="611.8" x2="192.8" y2="614.1" stroke="#222" stroke-width="0.8"/>
<text transform="translate(196.4,622.6) rotate(-45)" font-size="6.5" fill="#3a3a3a" text-anchor="end" stroke="#3a3a3a" stroke-width="0.18">C4D9</text>
<line x1="203.4" y1="611.8" x2="203.4" y2="614.1" stroke="#222" stroke-width="0.8"/>
<text transform="translate(207.0,622.6) rotate(-45)" font-size="6.5" fill="#3a3a3a" text-anchor="end" stroke="#3a3a3a" stroke-width="0.18">C6D1</text>
<text transform="translate(119.6,573.7) rotate(-90)" font-size="7.4" fill="#222" textLength="56.5" lengthAdjust="spacingAndGlyphs" text-anchor="middle" stroke="#222" stroke-width="0.12">HLA-A+ (%AML cells)</text>
<line x1="45.6" y1="559" x2="76.9" y2="580.8" stroke="#bcc5d2" stroke-width="0.6"/>
<line x1="45.6" y1="563.8" x2="76.9" y2="582.7" stroke="#bcc5d2" stroke-width="0.6"/>
<line x1="45.6" y1="565.8" x2="87.1" y2="582.7" stroke="#bcc5d2" stroke-width="0.6"/>
<line x1="45.6" y1="569.6" x2="76.9" y2="584" stroke="#bcc5d2" stroke-width="0.6"/>
<line x1="45.6" y1="571.5" x2="55.8" y2="593.1" stroke="#bcc5d2" stroke-width="0.6"/>
<line x1="45.6" y1="573" x2="76.9" y2="585.4" stroke="#bcc5d2" stroke-width="0.6"/>
<line x1="45.6" y1="582.1" x2="66.3" y2="582.7" stroke="#bcc5d2" stroke-width="0.6"/>
<line x1="45.6" y1="586.5" x2="76.9" y2="598.1" stroke="#bcc5d2" stroke-width="0.6"/>
<line x1="45.6" y1="588.5" x2="55.8" y2="593.1" stroke="#bcc5d2" stroke-width="0.6"/>
<line x1="55.8" y1="593.1" x2="76.9" y2="574" stroke="#bcc5d2" stroke-width="0.6"/>
<line x1="76.9" y1="574" x2="97.5" y2="573.1" stroke="#bcc5d2" stroke-width="0.6"/>
<line x1="55.8" y1="569" x2="76.9" y2="556.5" stroke="#bcc5d2" stroke-width="0.6"/>
<circle cx="45.6" cy="559" r="1.2" fill="#4a5a66"/>
<circle cx="45.6" cy="563.8" r="1.2" fill="#4a5a66"/>
<circle cx="45.6" cy="565.8" r="1.2" fill="#4a5a66"/>
<circle cx="45.6" cy="569.6" r="1.2" fill="#4a5a66"/>
<circle cx="45.6" cy="571.5" r="1.2" fill="#4a5a66"/>
<circle cx="45.6" cy="573" r="1.2" fill="#4a5a66"/>
<circle cx="45.6" cy="582.1" r="1.2" fill="#4a5a66"/>
<circle cx="45.6" cy="586.5" r="1.2" fill="#4a5a66"/>
<circle cx="45.6" cy="588.5" r="1.2" fill="#4a5a66"/>
<circle cx="55.8" cy="593.1" r="1.8" fill="#f0e890"/>
<circle cx="55.8" cy="593.1" r="1.0" fill="#6a6a22"/>
<circle cx="66.3" cy="582.7" r="1.1" fill="#a8102e"/>
<circle cx="76.9" cy="556.5" r="1.1" fill="#a8102e"/>
<circle cx="76.9" cy="580.8" r="1.1" fill="#a8102e"/>
<circle cx="76.9" cy="582.7" r="1.1" fill="#a8102e"/>
<circle cx="76.9" cy="584" r="1.1" fill="#a8102e"/>
<circle cx="76.9" cy="585.4" r="1.1" fill="#a8102e"/>
<circle cx="76.9" cy="598.1" r="1.1" fill="#a8102e"/>
<circle cx="76.9" cy="574" r="1.1" fill="#e0a050"/>
<circle cx="87.1" cy="582.7" r="1.1" fill="#a8102e"/>
<circle cx="97.5" cy="573.1" r="1.1" fill="#a8102e"/>
<line x1="150.8" y1="540.2" x2="161.3" y2="540.2" stroke="#cfcfcf" stroke-width="2.6"/>
<line x1="161.3" y1="540.2" x2="182" y2="540.2" stroke="#c9d9ea" stroke-width="1.8"/>
<line x1="182" y1="540.2" x2="192.8" y2="540.1" stroke="#c9c9d0" stroke-width="0.8"/>
<line x1="182" y1="541" x2="203.3" y2="546.8" stroke="#f0b4a8" stroke-width="0.9"/>
<ellipse cx="150.6" cy="540.1" rx="1.2" ry="1.9" fill="#2c3438"/>
<circle cx="161.3" cy="540.1" r="1.1" fill="#b0a030"/>
<circle cx="171.6" cy="539.8" r="1.1" fill="#a8102e"/>
<ellipse cx="182" cy="540.3" rx="1.6" ry="1.8" fill="#e0a050" fill-opacity="0.6"/>
<circle cx="182" cy="540.1" r="1.0" fill="#7a3020"/>
<circle cx="192.8" cy="540.1" r="1.1" fill="#a8102e"/>
<circle cx="203.3" cy="546.8" r="1.1" fill="#a8102e"/>
<text x="46.2" y="645.1" font-size="6.2" fill="#333" textLength="47.6" lengthAdjust="spacingAndGlyphs" stroke="#333" stroke-width="0.18">Clinical Response</text>
<circle cx="98.5" cy="643" r="1.8" fill="#1e5a48"/>
<text x="102.5" y="645.1" font-size="6.2" fill="#333" stroke="#333" stroke-width="0.18">CR</text>
<circle cx="120" cy="643" r="1.8" fill="#e6c41e"/>
<text x="124" y="645.1" font-size="6.2" fill="#333" stroke="#333" stroke-width="0.18">SD</text>
<circle cx="141.5" cy="643" r="1.8" fill="#8e1a2c"/>
<text x="145.5" y="645.1" font-size="6.2" fill="#333" stroke="#333" stroke-width="0.18">PD</text>
<circle cx="161.5" cy="643" r="1.8" fill="#a87540"/>
<text x="165.5" y="645.1" font-size="6.2" fill="#333" stroke="#333" stroke-width="0.18">Hem. Relapse</text>
<text x="222.9" y="523.7" font-size="10.6" fill="#111" font-weight="bold">I</text>
<path d="M246.00,536.90 A16.9,16.9 0 0 1 260.78,561.99 L253.08,557.73 A8.1,8.1 0 0 0 246.00,545.70 Z" fill="#d0102c"/>
<path d="M260.78,561.99 A16.9,16.9 0 0 1 241.63,570.12 L243.90,561.62 A8.1,8.1 0 0 0 253.08,557.73 Z" fill="#c9c9cc"/>
<path d="M241.63,570.12 A16.9,16.9 0 0 1 246.00,536.90 L246.00,545.70 A8.1,8.1 0 0 0 243.90,561.62 Z" fill="#134f8c"/>
<path d="M288.00,536.90 A16.9,16.9 0 1 1 273.36,562.25 L280.99,557.85 A8.1,8.1 0 1 0 288.00,545.70 Z" fill="#c9c9cc"/>
<path d="M273.36,562.25 A16.9,16.9 0 0 1 288.00,536.90 L288.00,545.70 A8.1,8.1 0 0 0 280.99,557.85 Z" fill="#134f8c"/>
<path d="M330.00,536.70 A16.9,16.9 0 0 1 341.95,541.65 L335.73,547.87 A8.1,8.1 0 0 0 330.00,545.50 Z" fill="#d0102c"/>
<path d="M341.95,541.65 A16.9,16.9 0 1 1 313.23,551.54 L321.96,552.61 A8.1,8.1 0 1 0 335.73,547.87 Z" fill="#c9c9cc"/>
<path d="M313.23,551.54 A16.9,16.9 0 0 1 330.00,536.70 L330.00,545.50 A8.1,8.1 0 0 0 321.96,552.61 Z" fill="#134f8c"/>
<path d="M373.00,536.60 A16.9,16.9 0 1 1 367.78,569.57 L370.50,561.20 A8.1,8.1 0 1 0 373.00,545.40 Z" fill="#d0102c"/>
<path d="M367.78,569.57 A16.9,16.9 0 0 1 373.00,536.60 L373.00,545.40 A8.1,8.1 0 0 0 370.50,561.20 Z" fill="#c9c9cc"/>
<path d="M246.00,596.90 A16.9,16.9 0 0 1 256.86,600.85 L251.21,607.60 A8.1,8.1 0 0 0 246.00,605.70 Z" fill="#d0102c"/>
<path d="M256.86,600.85 A16.9,16.9 0 1 1 229.36,610.87 L238.02,612.39 A8.1,8.1 0 1 0 251.21,607.60 Z" fill="#c9c9cc"/>
<path d="M229.36,610.87 A16.9,16.9 0 0 1 246.00,596.90 L246.00,605.70 A8.1,8.1 0 0 0 238.02,612.39 Z" fill="#134f8c"/>
<path d="M288.20,596.70 A16.9,16.9 0 0 1 304.84,610.67 L296.18,612.19 A8.1,8.1 0 0 0 288.20,605.50 Z" fill="#d0102c"/>
<path d="M304.84,610.67 A16.9,16.9 0 1 1 271.56,610.67 L280.22,612.19 A8.1,8.1 0 1 0 296.18,612.19 Z" fill="#c9c9cc"/>
<path d="M271.56,610.67 A16.9,16.9 0 0 1 288.20,596.70 L288.20,605.50 A8.1,8.1 0 0 0 280.22,612.19 Z" fill="#134f8c"/>
<path d="M331.60,596.70 A16.9,16.9 0 0 1 348.13,610.09 L339.52,611.92 A8.1,8.1 0 0 0 331.60,605.50 Z" fill="#d0102c"/>
<path d="M348.13,610.09 A16.9,16.9 0 1 1 321.67,599.93 L326.84,607.05 A8.1,8.1 0 1 0 339.52,611.92 Z" fill="#c9c9cc"/>
<path d="M321.67,599.93 A16.9,16.9 0 0 1 331.60,596.70 L331.60,605.50 A8.1,8.1 0 0 0 326.84,607.05 Z" fill="#134f8c"/>
<text x="246" y="532.7" font-size="6.3" fill="#222" text-anchor="middle" stroke="#222" stroke-width="0.18">GMP-like</text>
<text x="288" y="532.7" font-size="6.3" fill="#222" text-anchor="middle" stroke="#222" stroke-width="0.18">cDC-like</text>
<text x="329.9" y="532.7" font-size="6.3" fill="#222" text-anchor="middle" stroke="#222" stroke-width="0.18">ProMono-like</text>
<text x="372.7" y="532.7" font-size="6.3" fill="#222" text-anchor="middle" stroke="#222" stroke-width="0.18">Mono-like</text>
<text x="246.1" y="585.0" font-size="6.4" fill="#222" text-anchor="middle" stroke="#222" stroke-width="0.18">LSPC-</text>
<text x="246.1" y="592.4" font-size="6.4" fill="#222" text-anchor="middle" stroke="#222" stroke-width="0.18">Cycle</text>
<text x="287.9" y="585.0" font-size="6.4" fill="#222" text-anchor="middle" stroke="#222" stroke-width="0.18">LSPC-</text>
<text x="287.9" y="592.4" font-size="6.4" fill="#222" text-anchor="middle" stroke="#222" stroke-width="0.18">Primed</text>
<text x="331.2" y="585.0" font-size="6.4" fill="#222" text-anchor="middle" stroke="#222" stroke-width="0.18">LSPC-</text>
<text x="331.2" y="592.4" font-size="6.4" fill="#222" text-anchor="middle" stroke="#222" stroke-width="0.18">Quiescent</text>
<rect x="248.6" y="637.7" width="5.2" height="5.2" fill="#d0102c"/>
<text x="256.9" y="642.3" font-size="6.0" fill="#333" stroke="#333" stroke-width="0.18">Expansion</text>
<rect x="290.2" y="637.7" width="5.2" height="5.2" fill="#c9c9cc"/>
<text x="298.5" y="642.3" font-size="6.0" fill="#333" stroke="#333" stroke-width="0.18">No Change</text>
<rect x="335.4" y="637.7" width="5.2" height="5.2" fill="#134f8c"/>
<text x="343.7" y="642.3" font-size="6.0" fill="#333" stroke="#333" stroke-width="0.18">Shrinkage</text>
<text x="403.9" y="523.4" font-size="10.6" fill="#111" font-weight="bold">J</text>
<line x1="433" y1="536" x2="433" y2="612" stroke="#222" stroke-width="1.25"/>
<line x1="430" y1="539.8" x2="433" y2="539.8" stroke="#222" stroke-width="0.8"/>
<text x="428.7" y="541.9327999999999" font-size="6.2" fill="#3a3a3a" text-anchor="end" stroke="#3a3a3a" stroke-width="0.18">100</text>
<line x1="430" y1="575.6" x2="433" y2="575.6" stroke="#222" stroke-width="0.8"/>
<text x="428.7" y="577.7328" font-size="6.2" fill="#3a3a3a" text-anchor="end" stroke="#3a3a3a" stroke-width="0.18">10</text>
<line x1="430" y1="611.6" x2="433" y2="611.6" stroke="#222" stroke-width="0.8"/>
<text x="428.7" y="613.7328" font-size="6.2" fill="#3a3a3a" text-anchor="end" stroke="#3a3a3a" stroke-width="0.18">1</text>
<line x1="433" y1="611.8" x2="514" y2="611.8" stroke="#222" stroke-width="1.25"/>
<line x1="431.0" y1="564.82" x2="433" y2="564.82" stroke="#222" stroke-width="0.6"/>
<line x1="431.0" y1="558.52" x2="433" y2="558.52" stroke="#222" stroke-width="0.6"/>
<line x1="431.0" y1="554.05" x2="433" y2="554.05" stroke="#222" stroke-width="0.6"/>
<line x1="431.0" y1="550.58" x2="433" y2="550.58" stroke="#222" stroke-width="0.6"/>
<line x1="431.0" y1="547.74" x2="433" y2="547.74" stroke="#222" stroke-width="0.6"/>
<line x1="431.0" y1="545.35" x2="433" y2="545.35" stroke="#222" stroke-width="0.6"/>
<line x1="431.0" y1="543.27" x2="433" y2="543.27" stroke="#222" stroke-width="0.6"/>
<line x1="431.0" y1="541.44" x2="433" y2="541.44" stroke="#222" stroke-width="0.6"/>
<line x1="431.0" y1="600.62" x2="433" y2="600.62" stroke="#222" stroke-width="0.6"/>
<line x1="431.0" y1="594.32" x2="433" y2="594.32" stroke="#222" stroke-width="0.6"/>
<line x1="431.0" y1="589.85" x2="433" y2="589.85" stroke="#222" stroke-width="0.6"/>
<line x1="431.0" y1="586.38" x2="433" y2="586.38" stroke="#222" stroke-width="0.6"/>
<line x1="431.0" y1="583.54" x2="433" y2="583.54" stroke="#222" stroke-width="0.6"/>
<line x1="431.0" y1="581.15" x2="433" y2="581.15" stroke="#222" stroke-width="0.6"/>
<line x1="431.0" y1="579.07" x2="433" y2="579.07" stroke="#222" stroke-width="0.6"/>
<line x1="431.0" y1="577.24" x2="433" y2="577.24" stroke="#222" stroke-width="0.6"/>
<text transform="translate(412.8,574) rotate(-90)" font-size="7.4" fill="#222" textLength="68" lengthAdjust="spacingAndGlyphs" text-anchor="middle" stroke="#222" stroke-width="0.12">%Positive cells (mono-like)</text>
<rect x="438" y="581.2" width="8.199999999999989" height="30.59999999999991" fill="#3d4a5f"/>
<rect x="461.4" y="582" width="7.600000000000023" height="29.799999999999955" fill="#3d4a5f"/>
<rect x="471" y="595.1" width="7.100000000000023" height="16.699999999999932" fill="#e0197d"/>
<rect x="484.2" y="541.9" width="7.600000000000023" height="69.89999999999998" fill="#3d4a5f"/>
<rect x="494.4" y="539.8" width="7.100000000000023" height="72.0" fill="#e0197d"/>
<line x1="446" y1="611.8" x2="446" y2="614.1" stroke="#222" stroke-width="0.8"/>
<line x1="469.6" y1="611.8" x2="469.6" y2="614.1" stroke="#222" stroke-width="0.8"/>
<line x1="492.7" y1="611.8" x2="492.7" y2="614.1" stroke="#222" stroke-width="0.8"/>
<text transform="translate(447.5,623.5) rotate(-45)" font-size="6.5" fill="#3a3a3a" text-anchor="end" stroke="#3a3a3a" stroke-width="0.18">WT1+/</text>
<text transform="translate(455.0,627.0) rotate(-45)" font-size="6.5" fill="#3a3a3a" text-anchor="end" stroke="#3a3a3a" stroke-width="0.18">PSMB9+</text>
<text transform="translate(471.1,623.5) rotate(-45)" font-size="6.5" fill="#3a3a3a" text-anchor="end" stroke="#3a3a3a" stroke-width="0.18">WT1+/</text>
<text transform="translate(478.6,627.0) rotate(-45)" font-size="6.5" fill="#3a3a3a" text-anchor="end" stroke="#3a3a3a" stroke-width="0.18">PSMB9−</text>
<text transform="translate(494.7,623.5) rotate(-45)" font-size="6.5" fill="#3a3a3a" text-anchor="end" stroke="#3a3a3a" stroke-width="0.18">WT1−</text>
<rect x="429.2" y="650.4" width="5.2" height="5.1" fill="#3d4a5f"/>
<text x="437.7" y="654.4" font-size="6.0" fill="#333" stroke="#333" stroke-width="0.18">Screening</text>
<rect x="471" y="650.4" width="5.2" height="5.1" fill="#e0197d"/>
<text x="479.6" y="654.4" font-size="6.0" fill="#333" stroke="#333" stroke-width="0.18">Disease</text>
<text x="479.6" y="662.1" font-size="5.9" fill="#333" stroke="#333" stroke-width="0.18">Progression</text>
</svg><div id="bd"></div></div></body></html>
